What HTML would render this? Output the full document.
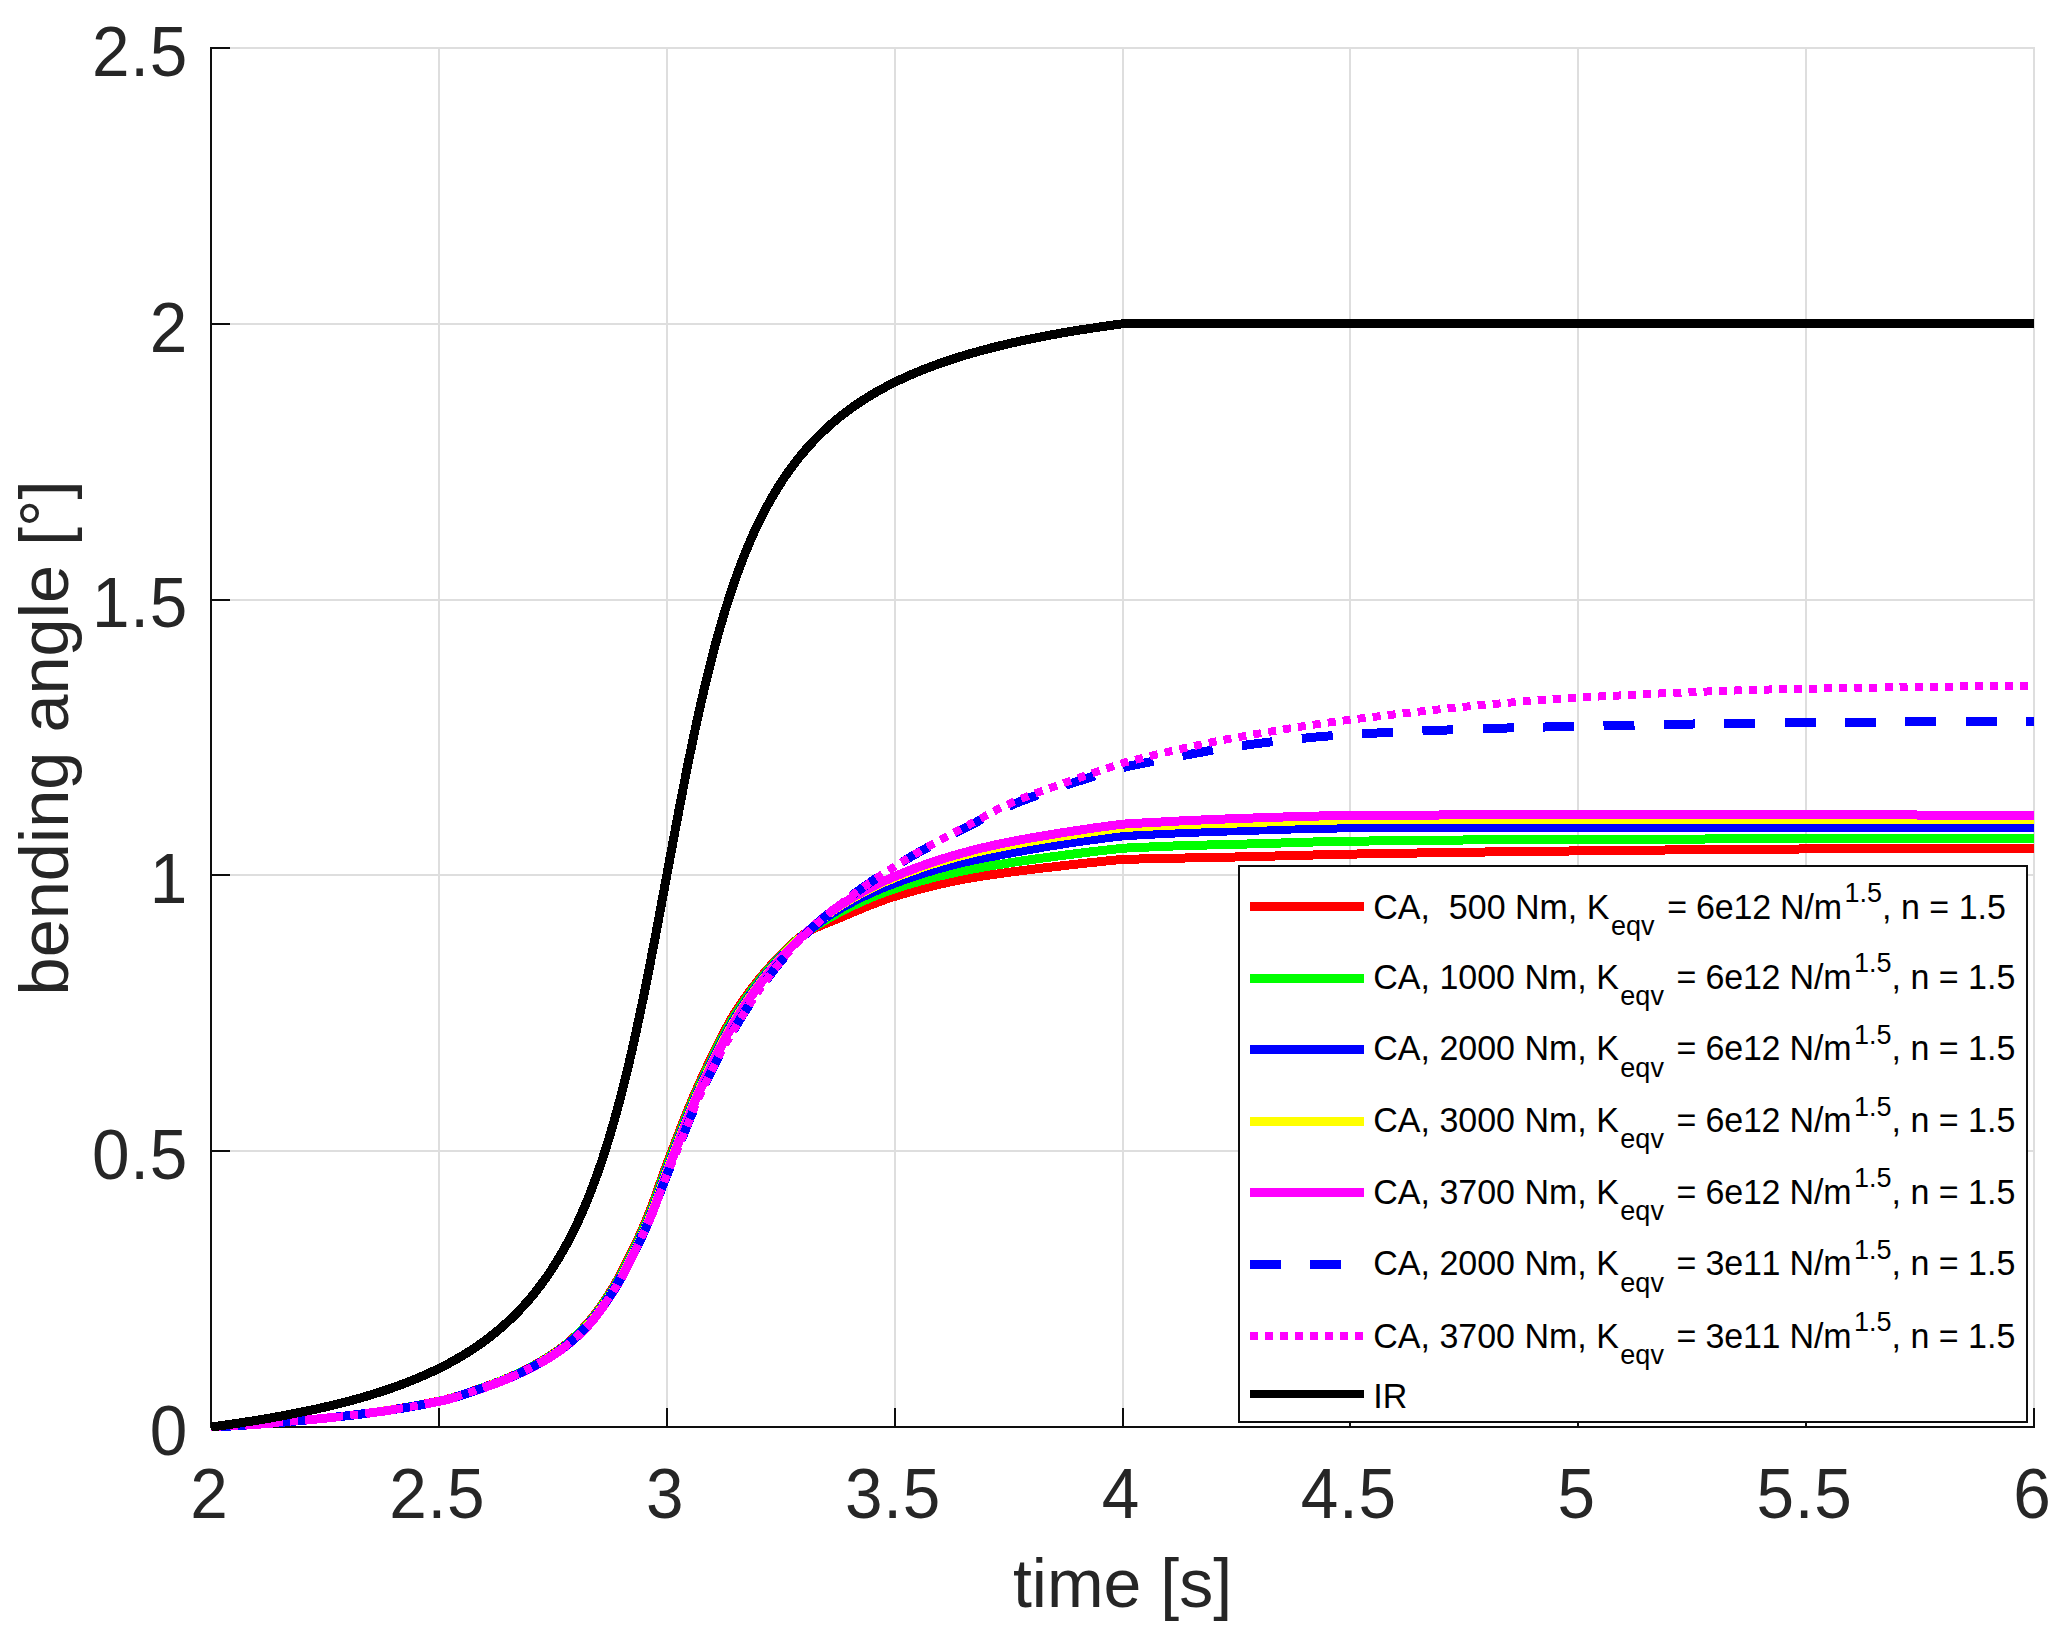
<!DOCTYPE html>
<html lang="en"><head><meta charset="utf-8"><title>bending angle vs time</title>
<style>html,body{margin:0;padding:0;background:#fff}svg{display:block}text{font-family:"Liberation Sans",sans-serif;font-kerning:none}.tk{font-size:67.5px;letter-spacing:0.8px;fill:#262626}.al{fill:#262626}.lg{font-size:34px;fill:#000}.ss{font-size:27px}</style></head><body>
<svg width="2066" height="1640" viewBox="0 0 2066 1640">
<rect width="2066" height="1640" fill="#fff"/>
<g fill="#dedede" shape-rendering="crispEdges">
<rect x="210" y="47" width="2" height="1381"/>
<rect x="438" y="47" width="2" height="1381"/>
<rect x="666" y="47" width="2" height="1381"/>
<rect x="894" y="47" width="2" height="1381"/>
<rect x="1122" y="47" width="2" height="1381"/>
<rect x="1349" y="47" width="2" height="1381"/>
<rect x="1577" y="47" width="2" height="1381"/>
<rect x="1805" y="47" width="2" height="1381"/>
<rect x="2033" y="47" width="2" height="1381"/>
<rect x="210" y="1426" width="1825" height="2"/>
<rect x="210" y="1150" width="1825" height="2"/>
<rect x="210" y="874" width="1825" height="2"/>
<rect x="210" y="599" width="1825" height="2"/>
<rect x="210" y="323" width="1825" height="2"/>
<rect x="210" y="47" width="1825" height="2"/>
</g>
<g fill="#0e0e0e" shape-rendering="crispEdges">
<rect x="210" y="47" width="2" height="1381"/>
<rect x="210" y="1426" width="1825" height="2"/>
<rect x="210" y="1408" width="2" height="20"/>
<rect x="438" y="1408" width="2" height="20"/>
<rect x="666" y="1408" width="2" height="20"/>
<rect x="894" y="1408" width="2" height="20"/>
<rect x="1122" y="1408" width="2" height="20"/>
<rect x="1349" y="1408" width="2" height="20"/>
<rect x="1577" y="1408" width="2" height="20"/>
<rect x="1805" y="1408" width="2" height="20"/>
<rect x="2033" y="1408" width="2" height="20"/>
<rect x="210" y="1426" width="20" height="2"/>
<rect x="210" y="1150" width="20" height="2"/>
<rect x="210" y="874" width="20" height="2"/>
<rect x="210" y="599" width="20" height="2"/>
<rect x="210" y="323" width="20" height="2"/>
<rect x="210" y="47" width="20" height="2"/>
</g>
<defs><clipPath id="c"><rect x="210" y="47" width="1825" height="1384"/></clipPath></defs>
<g clip-path="url(#c)" fill="none" stroke-width="9" stroke-linejoin="round" shape-rendering="crispEdges">
<path d="M211.0,1427.0 L213.0,1426.9 L215.0,1426.8 L217.0,1426.7 L219.0,1426.6 L221.0,1426.5 L223.0,1426.4 L225.0,1426.3 L227.0,1426.2 L229.0,1426.1 L231.0,1426.0 L233.0,1425.9 L235.0,1425.8 L237.0,1425.7 L239.0,1425.5 L241.0,1425.4 L243.0,1425.3 L245.0,1425.1 L247.0,1425.0 L249.0,1424.9 L251.0,1424.7 L253.0,1424.6 L255.0,1424.4 L257.0,1424.3 L259.0,1424.1 L261.0,1424.0 L263.0,1423.8 L265.0,1423.7 L267.0,1423.5 L269.0,1423.4 L271.0,1423.2 L273.0,1423.0 L275.0,1422.9 L277.0,1422.7 L279.0,1422.5 L281.0,1422.4 L283.0,1422.2 L285.0,1422.0 L287.0,1421.8 L289.0,1421.6 L291.0,1421.5 L293.0,1421.3 L295.0,1421.1 L297.0,1420.9 L299.0,1420.7 L301.0,1420.5 L303.0,1420.3 L305.0,1420.2 L307.0,1420.0 L309.0,1419.8 L311.0,1419.6 L313.0,1419.4 L315.0,1419.2 L317.0,1419.0 L319.0,1418.8 L321.0,1418.6 L323.0,1418.4 L325.0,1418.2 L327.0,1418.0 L329.0,1417.8 L331.0,1417.5 L333.0,1417.3 L335.0,1417.1 L337.0,1416.9 L339.0,1416.7 L341.0,1416.5 L343.0,1416.2 L345.0,1416.0 L347.0,1415.8 L349.0,1415.5 L351.0,1415.3 L353.0,1415.1 L355.0,1414.8 L357.0,1414.6 L359.0,1414.3 L361.0,1414.1 L363.0,1413.8 L365.0,1413.6 L367.0,1413.3 L369.0,1413.0 L371.0,1412.8 L373.0,1412.5 L375.0,1412.2 L377.0,1412.0 L379.0,1411.7 L381.0,1411.4 L383.0,1411.1 L385.0,1410.8 L387.0,1410.5 L389.0,1410.2 L391.0,1409.9 L393.0,1409.6 L395.0,1409.3 L397.0,1408.9 L399.0,1408.6 L401.0,1408.3 L403.0,1408.0 L405.0,1407.6 L407.0,1407.3 L409.0,1406.9 L411.0,1406.6 L413.0,1406.2 L415.0,1405.9 L417.0,1405.5 L419.0,1405.1 L421.0,1404.8 L423.0,1404.4 L425.0,1404.0 L427.0,1403.6 L429.0,1403.2 L431.0,1402.8 L433.0,1402.4 L435.0,1402.0 L437.0,1401.6 L439.0,1401.2 L441.0,1400.7 L443.0,1400.3 L445.0,1399.8 L447.0,1399.3 L449.0,1398.7 L451.0,1398.2 L453.0,1397.6 L455.0,1397.0 L457.0,1396.4 L459.0,1395.8 L461.0,1395.1 L463.0,1394.5 L465.0,1393.8 L467.0,1393.1 L469.0,1392.5 L471.0,1391.8 L473.0,1391.1 L475.0,1390.4 L477.0,1389.7 L479.0,1389.0 L481.0,1388.2 L483.0,1387.5 L485.0,1386.8 L487.0,1386.1 L489.0,1385.4 L491.0,1384.6 L493.0,1383.9 L495.0,1383.1 L497.0,1382.3 L499.0,1381.6 L501.0,1380.8 L503.0,1379.9 L505.0,1379.1 L507.0,1378.3 L509.0,1377.4 L511.0,1376.6 L513.0,1375.7 L515.0,1374.8 L517.0,1373.9 L519.0,1372.9 L521.0,1372.0 L523.0,1371.0 L525.0,1370.0 L527.0,1369.0 L529.0,1368.0 L531.0,1366.9 L533.0,1365.9 L535.0,1364.8 L537.0,1363.7 L539.0,1362.6 L541.0,1361.4 L543.0,1360.2 L545.0,1359.0 L547.0,1357.8 L549.0,1356.5 L551.0,1355.2 L553.0,1353.9 L555.0,1352.5 L557.0,1351.1 L559.0,1349.7 L561.0,1348.2 L563.0,1346.7 L565.0,1345.1 L567.0,1343.5 L569.0,1341.8 L571.0,1340.0 L573.0,1338.2 L575.0,1336.4 L577.0,1334.5 L579.0,1332.5 L581.0,1330.5 L583.0,1328.4 L585.0,1326.3 L587.0,1324.1 L589.0,1321.8 L591.0,1319.3 L593.0,1316.8 L595.0,1314.2 L597.0,1311.6 L599.0,1308.8 L601.0,1306.0 L603.0,1303.0 L605.0,1300.1 L607.0,1297.0 L609.0,1293.9 L611.0,1290.8 L613.0,1287.6 L615.0,1284.2 L617.0,1280.7 L619.0,1277.1 L621.0,1273.3 L623.0,1269.5 L625.0,1265.5 L627.0,1261.5 L629.0,1257.5 L631.0,1253.5 L633.0,1249.4 L635.0,1245.2 L637.0,1240.9 L639.0,1236.6 L641.0,1232.2 L643.0,1227.7 L645.0,1223.1 L647.0,1218.3 L649.0,1213.4 L651.0,1208.3 L653.0,1203.0 L655.0,1197.4 L657.0,1191.8 L659.0,1186.0 L661.0,1180.3 L663.0,1174.7 L665.0,1169.1 L667.0,1163.8 L669.0,1158.5 L671.0,1153.3 L673.0,1148.0 L675.0,1142.8 L677.0,1137.6 L679.0,1132.4 L681.0,1127.3 L683.0,1122.2 L685.0,1117.2 L687.0,1112.2 L689.0,1107.3 L691.0,1102.5 L693.0,1097.7 L695.0,1093.0 L697.0,1088.5 L699.0,1084.0 L701.0,1079.6 L703.0,1075.2 L705.0,1070.9 L707.0,1066.6 L709.0,1062.3 L711.0,1058.1 L713.0,1053.9 L715.0,1049.8 L717.0,1045.7 L719.0,1041.7 L721.0,1037.8 L723.0,1033.9 L725.0,1030.1 L727.0,1026.5 L729.0,1022.9 L731.0,1019.4 L733.0,1016.0 L735.0,1012.8 L737.0,1009.7 L739.0,1006.6 L741.0,1003.7 L743.0,1000.7 L745.0,997.9 L747.0,995.1 L749.0,992.3 L751.0,989.6 L753.0,987.0 L755.0,984.4 L757.0,981.8 L759.0,979.3 L761.0,976.9 L763.0,974.4 L765.0,972.1 L767.0,969.8 L769.0,967.5 L771.0,965.3 L773.0,963.1 L775.0,960.9 L777.0,958.8 L779.0,956.7 L781.0,954.7 L783.0,952.7 L785.0,950.7 L787.0,948.7 L789.0,946.8 L791.0,944.9 L793.0,943.0 L795.0,941.2 L797.0,939.5 L799.0,937.9 L801.0,936.4 L803.0,934.9 L805.0,933.6 L807.0,932.4 L809.0,931.2 L811.0,930.2 L813.0,929.1 L815.0,928.1 L817.0,927.2 L819.0,926.3 L821.0,925.4 L823.0,924.6 L825.0,923.7 L827.0,922.9 L829.0,922.1 L831.0,921.3 L833.0,920.5 L835.0,919.7 L837.0,918.9 L839.0,918.1 L841.0,917.3 L843.0,916.4 L845.0,915.6 L847.0,914.7 L849.0,913.9 L851.0,913.0 L853.0,912.2 L855.0,911.4 L857.0,910.5 L859.0,909.7 L861.0,908.9 L863.0,908.0 L865.0,907.2 L867.0,906.4 L869.0,905.6 L871.0,904.8 L873.0,904.0 L875.0,903.3 L877.0,902.5 L879.0,901.8 L881.0,901.0 L883.0,900.3 L885.0,899.6 L887.0,898.9 L889.0,898.2 L891.0,897.6 L893.0,896.9 L895.0,896.3 L897.0,895.7 L899.0,895.1 L901.0,894.5 L903.0,893.9 L905.0,893.3 L907.0,892.7 L909.0,892.2 L911.0,891.6 L913.0,891.0 L915.0,890.5 L917.0,889.9 L919.0,889.4 L921.0,888.9 L923.0,888.3 L925.0,887.8 L927.0,887.3 L929.0,886.8 L931.0,886.3 L933.0,885.8 L935.0,885.3 L937.0,884.9 L939.0,884.4 L941.0,883.9 L943.0,883.5 L945.0,883.0 L947.0,882.6 L949.0,882.2 L951.0,881.8 L953.0,881.4 L955.0,880.9 L957.0,880.5 L959.0,880.2 L961.0,879.8 L963.0,879.4 L965.0,879.0 L967.0,878.7 L969.0,878.3 L971.0,878.0 L973.0,877.6 L975.0,877.3 L977.0,877.0 L979.0,876.7 L981.0,876.4 L983.0,876.0 L985.0,875.7 L987.0,875.4 L989.0,875.1 L991.0,874.8 L993.0,874.5 L995.0,874.3 L997.0,874.0 L999.0,873.7 L1001.0,873.4 L1003.0,873.1 L1005.0,872.9 L1007.0,872.6 L1009.0,872.3 L1011.0,872.0 L1013.0,871.8 L1015.0,871.5 L1017.0,871.2 L1019.0,871.0 L1021.0,870.7 L1023.0,870.5 L1025.0,870.2 L1027.0,870.0 L1029.0,869.7 L1031.0,869.5 L1033.0,869.2 L1035.0,869.0 L1037.0,868.7 L1039.0,868.5 L1041.0,868.3 L1043.0,868.0 L1045.0,867.8 L1047.0,867.5 L1049.0,867.3 L1051.0,867.1 L1053.0,866.9 L1055.0,866.6 L1057.0,866.4 L1059.0,866.2 L1061.0,865.9 L1063.0,865.7 L1065.0,865.5 L1067.0,865.3 L1069.0,865.0 L1071.0,864.8 L1073.0,864.6 L1075.0,864.4 L1077.0,864.1 L1079.0,863.9 L1081.0,863.7 L1083.0,863.5 L1085.0,863.3 L1087.0,863.0 L1089.0,862.8 L1091.0,862.6 L1093.0,862.4 L1095.0,862.2 L1097.0,862.0 L1099.0,861.8 L1101.0,861.5 L1103.0,861.3 L1105.0,861.1 L1107.0,860.9 L1109.0,860.7 L1111.0,860.5 L1113.0,860.3 L1115.0,860.1 L1117.0,859.9 L1119.0,859.7 L1121.0,859.5 L1122.5,859.3 L1123.0,859.3 L1125.0,859.3 L1127.0,859.2 L1129.0,859.2 L1131.0,859.2 L1133.0,859.1 L1135.0,859.1 L1137.0,859.0 L1139.0,859.0 L1141.0,858.9 L1143.0,858.9 L1145.0,858.8 L1147.0,858.8 L1149.0,858.7 L1151.0,858.7 L1153.0,858.7 L1155.0,858.6 L1157.0,858.6 L1159.0,858.5 L1161.0,858.5 L1163.0,858.4 L1165.0,858.4 L1167.0,858.3 L1169.0,858.3 L1171.0,858.3 L1173.0,858.2 L1175.0,858.2 L1177.0,858.1 L1179.0,858.1 L1181.0,858.0 L1183.0,858.0 L1185.0,858.0 L1187.0,857.9 L1189.0,857.9 L1191.0,857.8 L1193.0,857.8 L1195.0,857.8 L1197.0,857.7 L1199.0,857.7 L1201.0,857.6 L1203.0,857.6 L1205.0,857.6 L1207.0,857.5 L1209.0,857.5 L1211.0,857.4 L1213.0,857.4 L1215.0,857.4 L1217.0,857.3 L1219.0,857.3 L1221.0,857.2 L1223.0,857.2 L1225.0,857.2 L1227.0,857.1 L1229.0,857.1 L1231.0,857.0 L1233.0,857.0 L1235.0,857.0 L1237.0,856.9 L1239.0,856.9 L1241.0,856.8 L1243.0,856.8 L1245.0,856.7 L1247.0,856.7 L1249.0,856.6 L1251.0,856.6 L1253.0,856.5 L1255.0,856.5 L1257.0,856.4 L1259.0,856.4 L1261.0,856.3 L1263.0,856.3 L1265.0,856.2 L1267.0,856.2 L1269.0,856.1 L1271.0,856.1 L1273.0,856.0 L1275.0,856.0 L1277.0,855.9 L1279.0,855.9 L1281.0,855.8 L1283.0,855.7 L1285.0,855.7 L1287.0,855.6 L1289.0,855.6 L1291.0,855.5 L1293.0,855.5 L1295.0,855.4 L1297.0,855.4 L1299.0,855.3 L1301.0,855.3 L1303.0,855.2 L1305.0,855.2 L1307.0,855.1 L1309.0,855.1 L1311.0,855.0 L1313.0,855.0 L1315.0,854.9 L1317.0,854.9 L1319.0,854.8 L1321.0,854.8 L1323.0,854.7 L1325.0,854.7 L1327.0,854.6 L1329.0,854.6 L1331.0,854.5 L1333.0,854.5 L1335.0,854.4 L1337.0,854.4 L1339.0,854.3 L1341.0,854.3 L1343.0,854.3 L1345.0,854.2 L1347.0,854.2 L1349.0,854.1 L1351.0,854.1 L1353.0,854.1 L1355.0,854.0 L1357.0,854.0 L1359.0,853.9 L1361.0,853.9 L1363.0,853.9 L1365.0,853.8 L1367.0,853.8 L1369.0,853.8 L1371.0,853.7 L1373.0,853.7 L1375.0,853.7 L1377.0,853.6 L1379.0,853.6 L1381.0,853.6 L1383.0,853.5 L1385.0,853.5 L1387.0,853.5 L1389.0,853.4 L1391.0,853.4 L1393.0,853.4 L1395.0,853.3 L1397.0,853.3 L1399.0,853.3 L1401.0,853.2 L1403.0,853.2 L1405.0,853.2 L1407.0,853.1 L1409.0,853.1 L1411.0,853.1 L1413.0,853.0 L1415.0,853.0 L1417.0,853.0 L1419.0,852.9 L1421.0,852.9 L1423.0,852.9 L1425.0,852.8 L1427.0,852.8 L1429.0,852.8 L1431.0,852.7 L1433.0,852.7 L1435.0,852.7 L1437.0,852.7 L1439.0,852.6 L1441.0,852.6 L1443.0,852.6 L1445.0,852.5 L1447.0,852.5 L1449.0,852.5 L1451.0,852.4 L1453.0,852.4 L1455.0,852.4 L1457.0,852.4 L1459.0,852.3 L1461.0,852.3 L1463.0,852.3 L1465.0,852.2 L1467.0,852.2 L1469.0,852.2 L1471.0,852.2 L1473.0,852.1 L1475.0,852.1 L1477.0,852.1 L1479.0,852.0 L1481.0,852.0 L1483.0,852.0 L1485.0,852.0 L1487.0,851.9 L1489.0,851.9 L1491.0,851.9 L1493.0,851.9 L1495.0,851.8 L1497.0,851.8 L1499.0,851.8 L1501.0,851.8 L1503.0,851.7 L1505.0,851.7 L1507.0,851.7 L1509.0,851.7 L1511.0,851.6 L1513.0,851.6 L1515.0,851.6 L1517.0,851.6 L1519.0,851.5 L1521.0,851.5 L1523.0,851.5 L1525.0,851.5 L1527.0,851.4 L1529.0,851.4 L1531.0,851.4 L1533.0,851.4 L1535.0,851.3 L1537.0,851.3 L1539.0,851.3 L1541.0,851.3 L1543.0,851.2 L1545.0,851.2 L1547.0,851.2 L1549.0,851.2 L1551.0,851.2 L1553.0,851.1 L1555.0,851.1 L1557.0,851.1 L1559.0,851.1 L1561.0,851.0 L1563.0,851.0 L1565.0,851.0 L1567.0,851.0 L1569.0,851.0 L1571.0,850.9 L1573.0,850.9 L1575.0,850.9 L1577.0,850.9 L1579.0,850.8 L1581.0,850.8 L1583.0,850.8 L1585.0,850.8 L1587.0,850.8 L1589.0,850.7 L1591.0,850.7 L1593.0,850.7 L1595.0,850.7 L1597.0,850.7 L1599.0,850.6 L1601.0,850.6 L1603.0,850.6 L1605.0,850.6 L1607.0,850.5 L1609.0,850.5 L1611.0,850.5 L1613.0,850.5 L1615.0,850.5 L1617.0,850.4 L1619.0,850.4 L1621.0,850.4 L1623.0,850.4 L1625.0,850.4 L1627.0,850.3 L1629.0,850.3 L1631.0,850.3 L1633.0,850.3 L1635.0,850.3 L1637.0,850.2 L1639.0,850.2 L1641.0,850.2 L1643.0,850.2 L1645.0,850.2 L1647.0,850.1 L1649.0,850.1 L1651.0,850.1 L1653.0,850.1 L1655.0,850.1 L1657.0,850.0 L1659.0,850.0 L1661.0,850.0 L1663.0,850.0 L1665.0,850.0 L1667.0,849.9 L1669.0,849.9 L1671.0,849.9 L1673.0,849.9 L1675.0,849.9 L1677.0,849.8 L1679.0,849.8 L1681.0,849.8 L1683.0,849.8 L1685.0,849.8 L1687.0,849.7 L1689.0,849.7 L1691.0,849.7 L1693.0,849.7 L1695.0,849.7 L1697.0,849.7 L1699.0,849.6 L1701.0,849.6 L1703.0,849.6 L1705.0,849.6 L1707.0,849.6 L1709.0,849.6 L1711.0,849.5 L1713.0,849.5 L1715.0,849.5 L1717.0,849.5 L1719.0,849.5 L1721.0,849.5 L1723.0,849.4 L1725.0,849.4 L1727.0,849.4 L1729.0,849.4 L1731.0,849.4 L1733.0,849.4 L1735.0,849.3 L1737.0,849.3 L1739.0,849.3 L1741.0,849.3 L1743.0,849.3 L1745.0,849.3 L1747.0,849.3 L1749.0,849.2 L1751.0,849.2 L1753.0,849.2 L1755.0,849.2 L1757.0,849.2 L1759.0,849.2 L1761.0,849.2 L1763.0,849.1 L1765.0,849.1 L1767.0,849.1 L1769.0,849.1 L1771.0,849.1 L1773.0,849.1 L1775.0,849.1 L1777.0,849.1 L1779.0,849.1 L1781.0,849.0 L1783.0,849.0 L1785.0,849.0 L1787.0,849.0 L1789.0,849.0 L1791.0,849.0 L1793.0,849.0 L1795.0,849.0 L1797.0,849.0 L1799.0,849.0 L1801.0,848.9 L1803.0,848.9 L1805.0,848.9 L1807.0,848.9 L1809.0,848.9 L1811.0,848.9 L1813.0,848.9 L1815.0,848.9 L1817.0,848.9 L1819.0,848.9 L1821.0,848.9 L1823.0,848.9 L1825.0,848.8 L1827.0,848.8 L1829.0,848.8 L1831.0,848.8 L1833.0,848.8 L1835.0,848.8 L1837.0,848.8 L1839.0,848.8 L1841.0,848.8 L1843.0,848.8 L1845.0,848.8 L1847.0,848.8 L1849.0,848.8 L1851.0,848.7 L1853.0,848.7 L1855.0,848.7 L1857.0,848.7 L1859.0,848.7 L1861.0,848.7 L1863.0,848.7 L1865.0,848.7 L1867.0,848.7 L1869.0,848.7 L1871.0,848.7 L1873.0,848.7 L1875.0,848.7 L1877.0,848.6 L1879.0,848.6 L1881.0,848.6 L1883.0,848.6 L1885.0,848.6 L1887.0,848.6 L1889.0,848.6 L1891.0,848.6 L1893.0,848.6 L1895.0,848.6 L1897.0,848.6 L1899.0,848.6 L1901.0,848.6 L1903.0,848.6 L1905.0,848.6 L1907.0,848.5 L1909.0,848.5 L1911.0,848.5 L1913.0,848.5 L1915.0,848.5 L1917.0,848.5 L1919.0,848.5 L1921.0,848.5 L1923.0,848.5 L1925.0,848.5 L1927.0,848.5 L1929.0,848.5 L1931.0,848.5 L1933.0,848.5 L1935.0,848.5 L1937.0,848.5 L1939.0,848.5 L1941.0,848.4 L1943.0,848.4 L1945.0,848.4 L1947.0,848.4 L1949.0,848.4 L1951.0,848.4 L1953.0,848.4 L1955.0,848.4 L1957.0,848.4 L1959.0,848.4 L1961.0,848.4 L1963.0,848.4 L1965.0,848.4 L1967.0,848.4 L1969.0,848.4 L1971.0,848.4 L1973.0,848.4 L1975.0,848.4 L1977.0,848.4 L1979.0,848.4 L1981.0,848.4 L1983.0,848.4 L1985.0,848.4 L1987.0,848.4 L1989.0,848.3 L1991.0,848.3 L1993.0,848.3 L1995.0,848.3 L1997.0,848.3 L1999.0,848.3 L2001.0,848.3 L2003.0,848.3 L2005.0,848.3 L2007.0,848.3 L2009.0,848.3 L2011.0,848.3 L2013.0,848.3 L2015.0,848.3 L2017.0,848.3 L2019.0,848.3 L2021.0,848.3 L2023.0,848.3 L2025.0,848.3 L2027.0,848.3 L2029.0,848.3 L2031.0,848.3 L2033.0,848.3 L2034.0,848.3" stroke="#ff0000"/>
<path d="M211.0,1427.0 L213.0,1426.9 L215.0,1426.8 L217.0,1426.7 L219.0,1426.6 L221.0,1426.5 L223.0,1426.4 L225.0,1426.3 L227.0,1426.2 L229.0,1426.1 L231.0,1426.0 L233.0,1425.9 L235.0,1425.8 L237.0,1425.6 L239.0,1425.5 L241.0,1425.4 L243.0,1425.3 L245.0,1425.1 L247.0,1425.0 L249.0,1424.9 L251.0,1424.7 L253.0,1424.6 L255.0,1424.4 L257.0,1424.3 L259.0,1424.1 L261.0,1424.0 L263.0,1423.8 L265.0,1423.7 L267.0,1423.5 L269.0,1423.4 L271.0,1423.2 L273.0,1423.0 L275.0,1422.9 L277.0,1422.7 L279.0,1422.5 L281.0,1422.4 L283.0,1422.2 L285.0,1422.0 L287.0,1421.8 L289.0,1421.6 L291.0,1421.5 L293.0,1421.3 L295.0,1421.1 L297.0,1420.9 L299.0,1420.7 L301.0,1420.5 L303.0,1420.3 L305.0,1420.2 L307.0,1420.0 L309.0,1419.8 L311.0,1419.6 L313.0,1419.4 L315.0,1419.2 L317.0,1419.0 L319.0,1418.8 L321.0,1418.6 L323.0,1418.4 L325.0,1418.2 L327.0,1418.0 L329.0,1417.8 L331.0,1417.5 L333.0,1417.3 L335.0,1417.1 L337.0,1416.9 L339.0,1416.7 L341.0,1416.5 L343.0,1416.2 L345.0,1416.0 L347.0,1415.8 L349.0,1415.6 L351.0,1415.3 L353.0,1415.1 L355.0,1414.8 L357.0,1414.6 L359.0,1414.3 L361.0,1414.1 L363.0,1413.8 L365.0,1413.6 L367.0,1413.3 L369.0,1413.1 L371.0,1412.8 L373.0,1412.5 L375.0,1412.2 L377.0,1412.0 L379.0,1411.7 L381.0,1411.4 L383.0,1411.1 L385.0,1410.8 L387.0,1410.5 L389.0,1410.2 L391.0,1409.9 L393.0,1409.6 L395.0,1409.3 L397.0,1409.0 L399.0,1408.7 L401.0,1408.3 L403.0,1408.0 L405.0,1407.7 L407.0,1407.3 L409.0,1407.0 L411.0,1406.6 L413.0,1406.3 L415.0,1405.9 L417.0,1405.5 L419.0,1405.2 L421.0,1404.8 L423.0,1404.4 L425.0,1404.0 L427.0,1403.7 L429.0,1403.3 L431.0,1402.9 L433.0,1402.5 L435.0,1402.1 L437.0,1401.6 L439.0,1401.2 L441.0,1400.8 L443.0,1400.3 L445.0,1399.8 L447.0,1399.3 L449.0,1398.8 L451.0,1398.3 L453.0,1397.7 L455.0,1397.1 L457.0,1396.5 L459.0,1395.9 L461.0,1395.2 L463.0,1394.6 L465.0,1393.9 L467.0,1393.3 L469.0,1392.6 L471.0,1391.9 L473.0,1391.2 L475.0,1390.5 L477.0,1389.8 L479.0,1389.1 L481.0,1388.4 L483.0,1387.7 L485.0,1387.0 L487.0,1386.2 L489.0,1385.5 L491.0,1384.8 L493.0,1384.0 L495.0,1383.3 L497.0,1382.5 L499.0,1381.7 L501.0,1380.9 L503.0,1380.1 L505.0,1379.3 L507.0,1378.5 L509.0,1377.6 L511.0,1376.8 L513.0,1375.9 L515.0,1375.0 L517.0,1374.1 L519.0,1373.2 L521.0,1372.2 L523.0,1371.3 L525.0,1370.3 L527.0,1369.3 L529.0,1368.3 L531.0,1367.2 L533.0,1366.2 L535.0,1365.1 L537.0,1364.0 L539.0,1362.9 L541.0,1361.8 L543.0,1360.6 L545.0,1359.4 L547.0,1358.2 L549.0,1356.9 L551.0,1355.6 L553.0,1354.3 L555.0,1353.0 L557.0,1351.6 L559.0,1350.2 L561.0,1348.7 L563.0,1347.2 L565.0,1345.6 L567.0,1344.0 L569.0,1342.4 L571.0,1340.7 L573.0,1338.9 L575.0,1337.1 L577.0,1335.2 L579.0,1333.2 L581.0,1331.2 L583.0,1329.2 L585.0,1327.1 L587.0,1324.9 L589.0,1322.6 L591.0,1320.3 L593.0,1317.8 L595.0,1315.2 L597.0,1312.6 L599.0,1309.9 L601.0,1307.1 L603.0,1304.2 L605.0,1301.3 L607.0,1298.3 L609.0,1295.2 L611.0,1292.1 L613.0,1288.9 L615.0,1285.6 L617.0,1282.2 L619.0,1278.6 L621.0,1274.9 L623.0,1271.1 L625.0,1267.2 L627.0,1263.3 L629.0,1259.3 L631.0,1255.2 L633.0,1251.2 L635.0,1247.1 L637.0,1242.9 L639.0,1238.6 L641.0,1234.2 L643.0,1229.8 L645.0,1225.2 L647.0,1220.6 L649.0,1215.8 L651.0,1210.8 L653.0,1205.6 L655.0,1200.1 L657.0,1194.5 L659.0,1188.8 L661.0,1183.1 L663.0,1177.4 L665.0,1171.9 L667.0,1166.4 L669.0,1161.2 L671.0,1156.0 L673.0,1150.7 L675.0,1145.5 L677.0,1140.3 L679.0,1135.1 L681.0,1130.0 L683.0,1124.9 L685.0,1119.8 L687.0,1114.8 L689.0,1109.9 L691.0,1105.1 L693.0,1100.3 L695.0,1095.6 L697.0,1091.0 L699.0,1086.5 L701.0,1082.1 L703.0,1077.8 L705.0,1073.5 L707.0,1069.2 L709.0,1064.9 L711.0,1060.7 L713.0,1056.6 L715.0,1052.5 L717.0,1048.4 L719.0,1044.4 L721.0,1040.5 L723.0,1036.6 L725.0,1032.9 L727.0,1029.2 L729.0,1025.6 L731.0,1022.1 L733.0,1018.6 L735.0,1015.3 L737.0,1012.1 L739.0,1009.0 L741.0,1006.0 L743.0,1003.0 L745.0,1000.1 L747.0,997.2 L749.0,994.4 L751.0,991.6 L753.0,988.9 L755.0,986.3 L757.0,983.7 L759.0,981.1 L761.0,978.6 L763.0,976.1 L765.0,973.7 L767.0,971.3 L769.0,969.0 L771.0,966.7 L773.0,964.4 L775.0,962.2 L777.0,960.0 L779.0,957.8 L781.0,955.7 L783.0,953.7 L785.0,951.6 L787.0,949.6 L789.0,947.6 L791.0,945.7 L793.0,943.9 L795.0,942.0 L797.0,940.3 L799.0,938.5 L801.0,936.9 L803.0,935.3 L805.0,933.7 L807.0,932.2 L809.0,930.8 L811.0,929.4 L813.0,928.0 L815.0,926.7 L817.0,925.4 L819.0,924.1 L821.0,922.8 L823.0,921.6 L825.0,920.4 L827.0,919.2 L829.0,918.1 L831.0,917.0 L833.0,915.8 L835.0,914.8 L837.0,913.7 L839.0,912.7 L841.0,911.6 L843.0,910.6 L845.0,909.6 L847.0,908.6 L849.0,907.7 L851.0,906.7 L853.0,905.7 L855.0,904.8 L857.0,903.9 L859.0,902.9 L861.0,902.0 L863.0,901.1 L865.0,900.2 L867.0,899.4 L869.0,898.5 L871.0,897.7 L873.0,896.8 L875.0,896.0 L877.0,895.2 L879.0,894.4 L881.0,893.7 L883.0,892.9 L885.0,892.2 L887.0,891.4 L889.0,890.7 L891.0,890.0 L893.0,889.3 L895.0,888.7 L897.0,888.0 L899.0,887.4 L901.0,886.8 L903.0,886.1 L905.0,885.5 L907.0,884.9 L909.0,884.3 L911.0,883.7 L913.0,883.1 L915.0,882.5 L917.0,882.0 L919.0,881.4 L921.0,880.9 L923.0,880.3 L925.0,879.8 L927.0,879.3 L929.0,878.7 L931.0,878.2 L933.0,877.7 L935.0,877.2 L937.0,876.7 L939.0,876.2 L941.0,875.8 L943.0,875.3 L945.0,874.8 L947.0,874.4 L949.0,873.9 L951.0,873.5 L953.0,873.0 L955.0,872.6 L957.0,872.2 L959.0,871.7 L961.0,871.3 L963.0,870.9 L965.0,870.5 L967.0,870.1 L969.0,869.7 L971.0,869.3 L973.0,869.0 L975.0,868.6 L977.0,868.2 L979.0,867.9 L981.0,867.5 L983.0,867.2 L985.0,866.8 L987.0,866.5 L989.0,866.1 L991.0,865.8 L993.0,865.5 L995.0,865.1 L997.0,864.8 L999.0,864.5 L1001.0,864.2 L1003.0,863.9 L1005.0,863.5 L1007.0,863.2 L1009.0,862.9 L1011.0,862.6 L1013.0,862.3 L1015.0,862.0 L1017.0,861.7 L1019.0,861.4 L1021.0,861.1 L1023.0,860.8 L1025.0,860.5 L1027.0,860.2 L1029.0,859.9 L1031.0,859.7 L1033.0,859.4 L1035.0,859.1 L1037.0,858.8 L1039.0,858.5 L1041.0,858.3 L1043.0,858.0 L1045.0,857.7 L1047.0,857.4 L1049.0,857.2 L1051.0,856.9 L1053.0,856.6 L1055.0,856.4 L1057.0,856.1 L1059.0,855.9 L1061.0,855.6 L1063.0,855.3 L1065.0,855.1 L1067.0,854.8 L1069.0,854.6 L1071.0,854.3 L1073.0,854.1 L1075.0,853.8 L1077.0,853.6 L1079.0,853.3 L1081.0,853.1 L1083.0,852.8 L1085.0,852.6 L1087.0,852.3 L1089.0,852.1 L1091.0,851.8 L1093.0,851.6 L1095.0,851.4 L1097.0,851.1 L1099.0,850.9 L1101.0,850.7 L1103.0,850.4 L1105.0,850.2 L1107.0,850.0 L1109.0,849.8 L1111.0,849.5 L1113.0,849.3 L1115.0,849.1 L1117.0,848.9 L1119.0,848.6 L1121.0,848.4 L1122.5,848.3 L1123.0,848.2 L1125.0,848.1 L1127.0,848.0 L1129.0,847.9 L1131.0,847.8 L1133.0,847.7 L1135.0,847.6 L1137.0,847.5 L1139.0,847.4 L1141.0,847.4 L1143.0,847.3 L1145.0,847.2 L1147.0,847.1 L1149.0,847.0 L1151.0,846.9 L1153.0,846.8 L1155.0,846.7 L1157.0,846.6 L1159.0,846.6 L1161.0,846.5 L1163.0,846.4 L1165.0,846.3 L1167.0,846.2 L1169.0,846.2 L1171.0,846.1 L1173.0,846.0 L1175.0,845.9 L1177.0,845.9 L1179.0,845.8 L1181.0,845.7 L1183.0,845.7 L1185.0,845.6 L1187.0,845.5 L1189.0,845.5 L1191.0,845.4 L1193.0,845.4 L1195.0,845.3 L1197.0,845.2 L1199.0,845.2 L1201.0,845.1 L1203.0,845.1 L1205.0,845.0 L1207.0,845.0 L1209.0,844.9 L1211.0,844.9 L1213.0,844.8 L1215.0,844.8 L1217.0,844.8 L1219.0,844.7 L1221.0,844.7 L1223.0,844.6 L1225.0,844.6 L1227.0,844.5 L1229.0,844.5 L1231.0,844.4 L1233.0,844.4 L1235.0,844.3 L1237.0,844.3 L1239.0,844.2 L1241.0,844.2 L1243.0,844.1 L1245.0,844.1 L1247.0,844.0 L1249.0,843.9 L1251.0,843.9 L1253.0,843.8 L1255.0,843.8 L1257.0,843.7 L1259.0,843.6 L1261.0,843.6 L1263.0,843.5 L1265.0,843.5 L1267.0,843.4 L1269.0,843.3 L1271.0,843.3 L1273.0,843.2 L1275.0,843.2 L1277.0,843.1 L1279.0,843.0 L1281.0,843.0 L1283.0,842.9 L1285.0,842.8 L1287.0,842.8 L1289.0,842.7 L1291.0,842.6 L1293.0,842.6 L1295.0,842.5 L1297.0,842.5 L1299.0,842.4 L1301.0,842.3 L1303.0,842.3 L1305.0,842.2 L1307.0,842.2 L1309.0,842.1 L1311.0,842.1 L1313.0,842.0 L1315.0,841.9 L1317.0,841.9 L1319.0,841.8 L1321.0,841.8 L1323.0,841.7 L1325.0,841.7 L1327.0,841.6 L1329.0,841.6 L1331.0,841.6 L1333.0,841.5 L1335.0,841.5 L1337.0,841.4 L1339.0,841.4 L1341.0,841.4 L1343.0,841.3 L1345.0,841.3 L1347.0,841.2 L1349.0,841.2 L1351.0,841.2 L1353.0,841.2 L1355.0,841.1 L1357.0,841.1 L1359.0,841.1 L1361.0,841.1 L1363.0,841.0 L1365.0,841.0 L1367.0,841.0 L1369.0,841.0 L1371.0,840.9 L1373.0,840.9 L1375.0,840.9 L1377.0,840.9 L1379.0,840.8 L1381.0,840.8 L1383.0,840.8 L1385.0,840.8 L1387.0,840.7 L1389.0,840.7 L1391.0,840.7 L1393.0,840.7 L1395.0,840.6 L1397.0,840.6 L1399.0,840.6 L1401.0,840.6 L1403.0,840.5 L1405.0,840.5 L1407.0,840.5 L1409.0,840.5 L1411.0,840.5 L1413.0,840.4 L1415.0,840.4 L1417.0,840.4 L1419.0,840.4 L1421.0,840.4 L1423.0,840.3 L1425.0,840.3 L1427.0,840.3 L1429.0,840.3 L1431.0,840.2 L1433.0,840.2 L1435.0,840.2 L1437.0,840.2 L1439.0,840.2 L1441.0,840.2 L1443.0,840.1 L1445.0,840.1 L1447.0,840.1 L1449.0,840.1 L1451.0,840.1 L1453.0,840.0 L1455.0,840.0 L1457.0,840.0 L1459.0,840.0 L1461.0,840.0 L1463.0,840.0 L1465.0,839.9 L1467.0,839.9 L1469.0,839.9 L1471.0,839.9 L1473.0,839.9 L1475.0,839.9 L1477.0,839.8 L1479.0,839.8 L1481.0,839.8 L1483.0,839.8 L1485.0,839.8 L1487.0,839.8 L1489.0,839.7 L1491.0,839.7 L1493.0,839.7 L1495.0,839.7 L1497.0,839.7 L1499.0,839.7 L1501.0,839.7 L1503.0,839.7 L1505.0,839.6 L1507.0,839.6 L1509.0,839.6 L1511.0,839.6 L1513.0,839.6 L1515.0,839.6 L1517.0,839.6 L1519.0,839.6 L1521.0,839.5 L1523.0,839.5 L1525.0,839.5 L1527.0,839.5 L1529.0,839.5 L1531.0,839.5 L1533.0,839.5 L1535.0,839.5 L1537.0,839.4 L1539.0,839.4 L1541.0,839.4 L1543.0,839.4 L1545.0,839.4 L1547.0,839.4 L1549.0,839.4 L1551.0,839.4 L1553.0,839.4 L1555.0,839.4 L1557.0,839.4 L1559.0,839.3 L1561.0,839.3 L1563.0,839.3 L1565.0,839.3 L1567.0,839.3 L1569.0,839.3 L1571.0,839.3 L1573.0,839.3 L1575.0,839.3 L1577.0,839.3 L1579.0,839.3 L1581.0,839.3 L1583.0,839.3 L1585.0,839.2 L1587.0,839.2 L1589.0,839.2 L1591.0,839.2 L1593.0,839.2 L1595.0,839.2 L1597.0,839.2 L1599.0,839.2 L1601.0,839.2 L1603.0,839.2 L1605.0,839.2 L1607.0,839.2 L1609.0,839.2 L1611.0,839.2 L1613.0,839.2 L1615.0,839.2 L1617.0,839.1 L1619.0,839.1 L1621.0,839.1 L1623.0,839.1 L1625.0,839.1 L1627.0,839.1 L1629.0,839.1 L1631.0,839.1 L1633.0,839.1 L1635.0,839.1 L1637.0,839.1 L1639.0,839.1 L1641.0,839.1 L1643.0,839.1 L1645.0,839.1 L1647.0,839.1 L1649.0,839.1 L1651.0,839.1 L1653.0,839.1 L1655.0,839.1 L1657.0,839.1 L1659.0,839.0 L1661.0,839.0 L1663.0,839.0 L1665.0,839.0 L1667.0,839.0 L1669.0,839.0 L1671.0,839.0 L1673.0,839.0 L1675.0,839.0 L1677.0,839.0 L1679.0,839.0 L1681.0,839.0 L1683.0,839.0 L1685.0,839.0 L1687.0,839.0 L1689.0,839.0 L1691.0,839.0 L1693.0,839.0 L1695.0,839.0 L1697.0,839.0 L1699.0,839.0 L1701.0,839.0 L1703.0,839.0 L1705.0,839.0 L1707.0,838.9 L1709.0,838.9 L1711.0,838.9 L1713.0,838.9 L1715.0,838.9 L1717.0,838.9 L1719.0,838.9 L1721.0,838.9 L1723.0,838.9 L1725.0,838.9 L1727.0,838.9 L1729.0,838.9 L1731.0,838.9 L1733.0,838.9 L1735.0,838.9 L1737.0,838.9 L1739.0,838.9 L1741.0,838.9 L1743.0,838.9 L1745.0,838.9 L1747.0,838.9 L1749.0,838.9 L1751.0,838.9 L1753.0,838.9 L1755.0,838.9 L1757.0,838.9 L1759.0,838.9 L1761.0,838.9 L1763.0,838.9 L1765.0,838.8 L1767.0,838.8 L1769.0,838.8 L1771.0,838.8 L1773.0,838.8 L1775.0,838.8 L1777.0,838.8 L1779.0,838.8 L1781.0,838.8 L1783.0,838.8 L1785.0,838.8 L1787.0,838.8 L1789.0,838.8 L1791.0,838.8 L1793.0,838.8 L1795.0,838.8 L1797.0,838.8 L1799.0,838.8 L1801.0,838.8 L1803.0,838.8 L1805.0,838.8 L1807.0,838.8 L1809.0,838.8 L1811.0,838.8 L1813.0,838.8 L1815.0,838.8 L1817.0,838.8 L1819.0,838.7 L1821.0,838.7 L1823.0,838.7 L1825.0,838.7 L1827.0,838.7 L1829.0,838.7 L1831.0,838.7 L1833.0,838.7 L1835.0,838.7 L1837.0,838.7 L1839.0,838.7 L1841.0,838.7 L1843.0,838.7 L1845.0,838.7 L1847.0,838.7 L1849.0,838.7 L1851.0,838.7 L1853.0,838.7 L1855.0,838.7 L1857.0,838.7 L1859.0,838.7 L1861.0,838.7 L1863.0,838.7 L1865.0,838.7 L1867.0,838.7 L1869.0,838.7 L1871.0,838.7 L1873.0,838.7 L1875.0,838.6 L1877.0,838.6 L1879.0,838.6 L1881.0,838.6 L1883.0,838.6 L1885.0,838.6 L1887.0,838.6 L1889.0,838.6 L1891.0,838.6 L1893.0,838.6 L1895.0,838.6 L1897.0,838.6 L1899.0,838.6 L1901.0,838.6 L1903.0,838.6 L1905.0,838.6 L1907.0,838.6 L1909.0,838.6 L1911.0,838.6 L1913.0,838.6 L1915.0,838.6 L1917.0,838.6 L1919.0,838.6 L1921.0,838.6 L1923.0,838.6 L1925.0,838.6 L1927.0,838.6 L1929.0,838.6 L1931.0,838.5 L1933.0,838.5 L1935.0,838.5 L1937.0,838.5 L1939.0,838.5 L1941.0,838.5 L1943.0,838.5 L1945.0,838.5 L1947.0,838.5 L1949.0,838.5 L1951.0,838.5 L1953.0,838.5 L1955.0,838.5 L1957.0,838.5 L1959.0,838.5 L1961.0,838.5 L1963.0,838.5 L1965.0,838.5 L1967.0,838.5 L1969.0,838.5 L1971.0,838.5 L1973.0,838.5 L1975.0,838.5 L1977.0,838.5 L1979.0,838.5 L1981.0,838.5 L1983.0,838.5 L1985.0,838.5 L1987.0,838.5 L1989.0,838.5 L1991.0,838.5 L1993.0,838.4 L1995.0,838.4 L1997.0,838.4 L1999.0,838.4 L2001.0,838.4 L2003.0,838.4 L2005.0,838.4 L2007.0,838.4 L2009.0,838.4 L2011.0,838.4 L2013.0,838.4 L2015.0,838.4 L2017.0,838.4 L2019.0,838.4 L2021.0,838.4 L2023.0,838.4 L2025.0,838.4 L2027.0,838.4 L2029.0,838.4 L2031.0,838.4 L2033.0,838.4 L2034.0,838.4" stroke="#00ff00"/>
<path d="M211.0,1427.0 L213.0,1426.9 L215.0,1426.8 L217.0,1426.7 L219.0,1426.6 L221.0,1426.5 L223.0,1426.4 L225.0,1426.3 L227.0,1426.2 L229.0,1426.1 L231.0,1426.0 L233.0,1425.9 L235.0,1425.8 L237.0,1425.6 L239.0,1425.5 L241.0,1425.4 L243.0,1425.3 L245.0,1425.1 L247.0,1425.0 L249.0,1424.9 L251.0,1424.7 L253.0,1424.6 L255.0,1424.4 L257.0,1424.3 L259.0,1424.1 L261.0,1424.0 L263.0,1423.8 L265.0,1423.7 L267.0,1423.5 L269.0,1423.4 L271.0,1423.2 L273.0,1423.0 L275.0,1422.9 L277.0,1422.7 L279.0,1422.5 L281.0,1422.3 L283.0,1422.2 L285.0,1422.0 L287.0,1421.8 L289.0,1421.6 L291.0,1421.5 L293.0,1421.3 L295.0,1421.1 L297.0,1420.9 L299.0,1420.7 L301.0,1420.5 L303.0,1420.3 L305.0,1420.2 L307.0,1420.0 L309.0,1419.8 L311.0,1419.6 L313.0,1419.4 L315.0,1419.2 L317.0,1419.0 L319.0,1418.8 L321.0,1418.6 L323.0,1418.4 L325.0,1418.2 L327.0,1418.0 L329.0,1417.8 L331.0,1417.5 L333.0,1417.3 L335.0,1417.1 L337.0,1416.9 L339.0,1416.7 L341.0,1416.5 L343.0,1416.2 L345.0,1416.0 L347.0,1415.8 L349.0,1415.6 L351.0,1415.3 L353.0,1415.1 L355.0,1414.8 L357.0,1414.6 L359.0,1414.4 L361.0,1414.1 L363.0,1413.8 L365.0,1413.6 L367.0,1413.3 L369.0,1413.1 L371.0,1412.8 L373.0,1412.5 L375.0,1412.3 L377.0,1412.0 L379.0,1411.7 L381.0,1411.4 L383.0,1411.1 L385.0,1410.8 L387.0,1410.5 L389.0,1410.2 L391.0,1409.9 L393.0,1409.6 L395.0,1409.3 L397.0,1409.0 L399.0,1408.7 L401.0,1408.4 L403.0,1408.0 L405.0,1407.7 L407.0,1407.4 L409.0,1407.0 L411.0,1406.7 L413.0,1406.3 L415.0,1406.0 L417.0,1405.6 L419.0,1405.2 L421.0,1404.9 L423.0,1404.5 L425.0,1404.1 L427.0,1403.7 L429.0,1403.3 L431.0,1402.9 L433.0,1402.5 L435.0,1402.1 L437.0,1401.7 L439.0,1401.3 L441.0,1400.9 L443.0,1400.4 L445.0,1399.9 L447.0,1399.4 L449.0,1398.9 L451.0,1398.3 L453.0,1397.8 L455.0,1397.2 L457.0,1396.6 L459.0,1396.0 L461.0,1395.4 L463.0,1394.7 L465.0,1394.1 L467.0,1393.4 L469.0,1392.7 L471.0,1392.0 L473.0,1391.4 L475.0,1390.7 L477.0,1390.0 L479.0,1389.2 L481.0,1388.5 L483.0,1387.8 L485.0,1387.1 L487.0,1386.4 L489.0,1385.7 L491.0,1385.0 L493.0,1384.2 L495.0,1383.5 L497.0,1382.7 L499.0,1381.9 L501.0,1381.1 L503.0,1380.3 L505.0,1379.5 L507.0,1378.7 L509.0,1377.9 L511.0,1377.0 L513.0,1376.1 L515.0,1375.3 L517.0,1374.3 L519.0,1373.4 L521.0,1372.5 L523.0,1371.5 L525.0,1370.6 L527.0,1369.6 L529.0,1368.6 L531.0,1367.5 L533.0,1366.5 L535.0,1365.4 L537.0,1364.4 L539.0,1363.2 L541.0,1362.1 L543.0,1361.0 L545.0,1359.8 L547.0,1358.6 L549.0,1357.3 L551.0,1356.1 L553.0,1354.8 L555.0,1353.4 L557.0,1352.1 L559.0,1350.7 L561.0,1349.2 L563.0,1347.7 L565.0,1346.2 L567.0,1344.6 L569.0,1343.0 L571.0,1341.3 L573.0,1339.5 L575.0,1337.7 L577.0,1335.9 L579.0,1334.0 L581.0,1332.0 L583.0,1330.0 L585.0,1327.9 L587.0,1325.8 L589.0,1323.5 L591.0,1321.2 L593.0,1318.8 L595.0,1316.3 L597.0,1313.7 L599.0,1311.0 L601.0,1308.2 L603.0,1305.4 L605.0,1302.5 L607.0,1299.5 L609.0,1296.5 L611.0,1293.4 L613.0,1290.3 L615.0,1287.1 L617.0,1283.7 L619.0,1280.2 L621.0,1276.6 L623.0,1272.8 L625.0,1269.0 L627.0,1265.1 L629.0,1261.1 L631.0,1257.1 L633.0,1253.1 L635.0,1249.0 L637.0,1244.9 L639.0,1240.7 L641.0,1236.4 L643.0,1232.0 L645.0,1227.5 L647.0,1222.9 L649.0,1218.2 L651.0,1213.3 L653.0,1208.2 L655.0,1202.9 L657.0,1197.4 L659.0,1191.8 L661.0,1186.1 L663.0,1180.4 L665.0,1174.8 L667.0,1169.3 L669.0,1164.0 L671.0,1158.8 L673.0,1153.6 L675.0,1148.3 L677.0,1143.1 L679.0,1138.0 L681.0,1132.8 L683.0,1127.7 L685.0,1122.7 L687.0,1117.6 L689.0,1112.7 L691.0,1107.8 L693.0,1103.0 L695.0,1098.3 L697.0,1093.7 L699.0,1089.1 L701.0,1084.7 L703.0,1080.4 L705.0,1076.1 L707.0,1071.8 L709.0,1067.6 L711.0,1063.5 L713.0,1059.3 L715.0,1055.3 L717.0,1051.2 L719.0,1047.3 L721.0,1043.4 L723.0,1039.5 L725.0,1035.7 L727.0,1032.0 L729.0,1028.4 L731.0,1024.9 L733.0,1021.4 L735.0,1018.0 L737.0,1014.8 L739.0,1011.6 L741.0,1008.5 L743.0,1005.4 L745.0,1002.5 L747.0,999.5 L749.0,996.7 L751.0,993.9 L753.0,991.1 L755.0,988.4 L757.0,985.7 L759.0,983.1 L761.0,980.5 L763.0,977.9 L765.0,975.4 L767.0,973.0 L769.0,970.6 L771.0,968.2 L773.0,965.9 L775.0,963.6 L777.0,961.3 L779.0,959.1 L781.0,956.9 L783.0,954.7 L785.0,952.6 L787.0,950.5 L789.0,948.5 L791.0,946.5 L793.0,944.6 L795.0,942.7 L797.0,940.8 L799.0,939.0 L801.0,937.2 L803.0,935.5 L805.0,933.8 L807.0,932.2 L809.0,930.5 L811.0,928.9 L813.0,927.4 L815.0,925.8 L817.0,924.3 L819.0,922.8 L821.0,921.3 L823.0,919.9 L825.0,918.4 L827.0,917.1 L829.0,915.7 L831.0,914.4 L833.0,913.1 L835.0,911.8 L837.0,910.6 L839.0,909.4 L841.0,908.3 L843.0,907.1 L845.0,906.0 L847.0,904.9 L849.0,903.9 L851.0,902.8 L853.0,901.7 L855.0,900.7 L857.0,899.7 L859.0,898.7 L861.0,897.7 L863.0,896.7 L865.0,895.8 L867.0,894.9 L869.0,893.9 L871.0,893.0 L873.0,892.1 L875.0,891.2 L877.0,890.4 L879.0,889.5 L881.0,888.7 L883.0,887.8 L885.0,887.0 L887.0,886.2 L889.0,885.4 L891.0,884.7 L893.0,883.9 L895.0,883.1 L897.0,882.4 L899.0,881.7 L901.0,880.9 L903.0,880.2 L905.0,879.5 L907.0,878.8 L909.0,878.1 L911.0,877.4 L913.0,876.7 L915.0,876.1 L917.0,875.4 L919.0,874.8 L921.0,874.1 L923.0,873.5 L925.0,872.8 L927.0,872.2 L929.0,871.6 L931.0,871.0 L933.0,870.4 L935.0,869.8 L937.0,869.2 L939.0,868.7 L941.0,868.1 L943.0,867.5 L945.0,867.0 L947.0,866.4 L949.0,865.9 L951.0,865.4 L953.0,864.9 L955.0,864.4 L957.0,863.9 L959.0,863.4 L961.0,862.9 L963.0,862.4 L965.0,862.0 L967.0,861.5 L969.0,861.1 L971.0,860.6 L973.0,860.2 L975.0,859.8 L977.0,859.4 L979.0,858.9 L981.0,858.5 L983.0,858.1 L985.0,857.8 L987.0,857.4 L989.0,857.0 L991.0,856.6 L993.0,856.2 L995.0,855.9 L997.0,855.5 L999.0,855.1 L1001.0,854.7 L1003.0,854.4 L1005.0,854.0 L1007.0,853.6 L1009.0,853.3 L1011.0,852.9 L1013.0,852.5 L1015.0,852.1 L1017.0,851.8 L1019.0,851.4 L1021.0,851.1 L1023.0,850.7 L1025.0,850.3 L1027.0,850.0 L1029.0,849.6 L1031.0,849.3 L1033.0,848.9 L1035.0,848.6 L1037.0,848.2 L1039.0,847.9 L1041.0,847.5 L1043.0,847.2 L1045.0,846.8 L1047.0,846.5 L1049.0,846.2 L1051.0,845.8 L1053.0,845.5 L1055.0,845.2 L1057.0,844.9 L1059.0,844.5 L1061.0,844.2 L1063.0,843.9 L1065.0,843.6 L1067.0,843.3 L1069.0,843.0 L1071.0,842.7 L1073.0,842.4 L1075.0,842.1 L1077.0,841.8 L1079.0,841.5 L1081.0,841.3 L1083.0,841.0 L1085.0,840.7 L1087.0,840.4 L1089.0,840.1 L1091.0,839.9 L1093.0,839.6 L1095.0,839.3 L1097.0,839.1 L1099.0,838.8 L1101.0,838.5 L1103.0,838.3 L1105.0,838.0 L1107.0,837.8 L1109.0,837.5 L1111.0,837.3 L1113.0,837.0 L1115.0,836.8 L1117.0,836.5 L1119.0,836.3 L1121.0,836.1 L1122.5,835.9 L1123.0,835.9 L1125.0,835.7 L1127.0,835.6 L1129.0,835.5 L1131.0,835.4 L1133.0,835.2 L1135.0,835.1 L1137.0,835.0 L1139.0,834.9 L1141.0,834.8 L1143.0,834.7 L1145.0,834.5 L1147.0,834.4 L1149.0,834.3 L1151.0,834.2 L1153.0,834.1 L1155.0,834.0 L1157.0,833.9 L1159.0,833.8 L1161.0,833.7 L1163.0,833.6 L1165.0,833.5 L1167.0,833.4 L1169.0,833.3 L1171.0,833.2 L1173.0,833.1 L1175.0,833.0 L1177.0,832.9 L1179.0,832.8 L1181.0,832.7 L1183.0,832.6 L1185.0,832.5 L1187.0,832.4 L1189.0,832.4 L1191.0,832.3 L1193.0,832.2 L1195.0,832.1 L1197.0,832.0 L1199.0,832.0 L1201.0,831.9 L1203.0,831.8 L1205.0,831.7 L1207.0,831.7 L1209.0,831.6 L1211.0,831.5 L1213.0,831.5 L1215.0,831.4 L1217.0,831.3 L1219.0,831.3 L1221.0,831.2 L1223.0,831.1 L1225.0,831.1 L1227.0,831.0 L1229.0,830.9 L1231.0,830.9 L1233.0,830.8 L1235.0,830.8 L1237.0,830.7 L1239.0,830.6 L1241.0,830.6 L1243.0,830.5 L1245.0,830.5 L1247.0,830.4 L1249.0,830.3 L1251.0,830.3 L1253.0,830.2 L1255.0,830.1 L1257.0,830.1 L1259.0,830.0 L1261.0,829.9 L1263.0,829.9 L1265.0,829.8 L1267.0,829.7 L1269.0,829.7 L1271.0,829.6 L1273.0,829.5 L1275.0,829.5 L1277.0,829.4 L1279.0,829.4 L1281.0,829.3 L1283.0,829.2 L1285.0,829.2 L1287.0,829.1 L1289.0,829.0 L1291.0,829.0 L1293.0,828.9 L1295.0,828.9 L1297.0,828.8 L1299.0,828.7 L1301.0,828.7 L1303.0,828.6 L1305.0,828.6 L1307.0,828.5 L1309.0,828.5 L1311.0,828.4 L1313.0,828.4 L1315.0,828.3 L1317.0,828.3 L1319.0,828.2 L1321.0,828.2 L1323.0,828.2 L1325.0,828.1 L1327.0,828.1 L1329.0,828.1 L1331.0,828.0 L1333.0,828.0 L1335.0,828.0 L1337.0,828.0 L1339.0,827.9 L1341.0,827.9 L1343.0,827.9 L1345.0,827.9 L1347.0,827.9 L1349.0,827.9 L1351.0,827.9 L1353.0,827.8 L1355.0,827.8 L1357.0,827.8 L1359.0,827.8 L1361.0,827.8 L1363.0,827.8 L1365.0,827.8 L1367.0,827.8 L1369.0,827.8 L1371.0,827.8 L1373.0,827.8 L1375.0,827.8 L1377.0,827.8 L1379.0,827.8 L1381.0,827.8 L1383.0,827.8 L1385.0,827.8 L1387.0,827.8 L1389.0,827.7 L1391.0,827.7 L1393.0,827.7 L1395.0,827.7 L1397.0,827.7 L1399.0,827.7 L1401.0,827.7 L1403.0,827.7 L1405.0,827.7 L1407.0,827.7 L1409.0,827.7 L1411.0,827.7 L1413.0,827.7 L1415.0,827.7 L1417.0,827.7 L1419.0,827.7 L1421.0,827.7 L1423.0,827.7 L1425.0,827.7 L1427.0,827.7 L1429.0,827.7 L1431.0,827.7 L1433.0,827.7 L1435.0,827.7 L1437.0,827.7 L1439.0,827.7 L1441.0,827.7 L1443.0,827.6 L1445.0,827.6 L1447.0,827.6 L1449.0,827.6 L1451.0,827.6 L1453.0,827.6 L1455.0,827.6 L1457.0,827.6 L1459.0,827.6 L1461.0,827.6 L1463.0,827.6 L1465.0,827.6 L1467.0,827.6 L1469.0,827.6 L1471.0,827.6 L1473.0,827.6 L1475.0,827.6 L1477.0,827.6 L1479.0,827.6 L1481.0,827.6 L1483.0,827.6 L1485.0,827.6 L1487.0,827.6 L1489.0,827.6 L1491.0,827.6 L1493.0,827.6 L1495.0,827.6 L1497.0,827.6 L1499.0,827.6 L1501.0,827.6 L1503.0,827.6 L1505.0,827.6 L1507.0,827.6 L1509.0,827.6 L1511.0,827.6 L1513.0,827.6 L1515.0,827.6 L1517.0,827.6 L1519.0,827.6 L1521.0,827.6 L1523.0,827.6 L1525.0,827.6 L1527.0,827.6 L1529.0,827.6 L1531.0,827.6 L1533.0,827.6 L1535.0,827.6 L1537.0,827.6 L1539.0,827.5 L1541.0,827.5 L1543.0,827.5 L1545.0,827.5 L1547.0,827.5 L1549.0,827.5 L1551.0,827.5 L1553.0,827.5 L1555.0,827.5 L1557.0,827.5 L1559.0,827.5 L1561.0,827.5 L1563.0,827.5 L1565.0,827.5 L1567.0,827.5 L1569.0,827.5 L1571.0,827.5 L1573.0,827.5 L1575.0,827.5 L1577.0,827.5 L1579.0,827.5 L1581.0,827.5 L1583.0,827.5 L1585.0,827.5 L1587.0,827.5 L1589.0,827.5 L1591.0,827.5 L1593.0,827.5 L1595.0,827.5 L1597.0,827.5 L1599.0,827.5 L1601.0,827.5 L1603.0,827.5 L1605.0,827.5 L1607.0,827.5 L1609.0,827.5 L1611.0,827.5 L1613.0,827.5 L1615.0,827.5 L1617.0,827.5 L1619.0,827.5 L1621.0,827.5 L1623.0,827.5 L1625.0,827.5 L1627.0,827.5 L1629.0,827.5 L1631.0,827.5 L1633.0,827.5 L1635.0,827.5 L1637.0,827.5 L1639.0,827.5 L1641.0,827.5 L1643.0,827.5 L1645.0,827.5 L1647.0,827.5 L1649.0,827.5 L1651.0,827.5 L1653.0,827.5 L1655.0,827.5 L1657.0,827.5 L1659.0,827.5 L1661.0,827.5 L1663.0,827.5 L1665.0,827.5 L1667.0,827.5 L1669.0,827.5 L1671.0,827.5 L1673.0,827.5 L1675.0,827.5 L1677.0,827.5 L1679.0,827.5 L1681.0,827.5 L1683.0,827.5 L1685.0,827.5 L1687.0,827.5 L1689.0,827.5 L1691.0,827.5 L1693.0,827.5 L1695.0,827.5 L1697.0,827.5 L1699.0,827.5 L1701.0,827.5 L1703.0,827.5 L1705.0,827.5 L1707.0,827.5 L1709.0,827.5 L1711.0,827.5 L1713.0,827.5 L1715.0,827.4 L1717.0,827.4 L1719.0,827.4 L1721.0,827.4 L1723.0,827.4 L1725.0,827.4 L1727.0,827.4 L1729.0,827.4 L1731.0,827.4 L1733.0,827.4 L1735.0,827.4 L1737.0,827.4 L1739.0,827.4 L1741.0,827.4 L1743.0,827.4 L1745.0,827.4 L1747.0,827.4 L1749.0,827.4 L1751.0,827.4 L1753.0,827.4 L1755.0,827.4 L1757.0,827.4 L1759.0,827.4 L1761.0,827.4 L1763.0,827.4 L1765.0,827.4 L1767.0,827.4 L1769.0,827.4 L1771.0,827.4 L1773.0,827.4 L1775.0,827.4 L1777.0,827.4 L1779.0,827.4 L1781.0,827.4 L1783.0,827.4 L1785.0,827.4 L1787.0,827.4 L1789.0,827.4 L1791.0,827.4 L1793.0,827.4 L1795.0,827.4 L1797.0,827.4 L1799.0,827.4 L1801.0,827.4 L1803.0,827.4 L1805.0,827.4 L1807.0,827.4 L1809.0,827.4 L1811.0,827.4 L1813.0,827.4 L1815.0,827.4 L1817.0,827.4 L1819.0,827.4 L1821.0,827.4 L1823.0,827.4 L1825.0,827.4 L1827.0,827.4 L1829.0,827.4 L1831.0,827.4 L1833.0,827.4 L1835.0,827.4 L1837.0,827.4 L1839.0,827.4 L1841.0,827.4 L1843.0,827.4 L1845.0,827.4 L1847.0,827.4 L1849.0,827.4 L1851.0,827.4 L1853.0,827.4 L1855.0,827.4 L1857.0,827.4 L1859.0,827.4 L1861.0,827.4 L1863.0,827.4 L1865.0,827.4 L1867.0,827.4 L1869.0,827.4 L1871.0,827.4 L1873.0,827.4 L1875.0,827.4 L1877.0,827.4 L1879.0,827.4 L1881.0,827.4 L1883.0,827.4 L1885.0,827.4 L1887.0,827.4 L1889.0,827.4 L1891.0,827.4 L1893.0,827.4 L1895.0,827.4 L1897.0,827.4 L1899.0,827.4 L1901.0,827.4 L1903.0,827.4 L1905.0,827.4 L1907.0,827.4 L1909.0,827.4 L1911.0,827.4 L1913.0,827.4 L1915.0,827.4 L1917.0,827.4 L1919.0,827.4 L1921.0,827.4 L1923.0,827.4 L1925.0,827.4 L1927.0,827.4 L1929.0,827.4 L1931.0,827.4 L1933.0,827.3 L1935.0,827.3 L1937.0,827.3 L1939.0,827.3 L1941.0,827.3 L1943.0,827.3 L1945.0,827.3 L1947.0,827.3 L1949.0,827.3 L1951.0,827.3 L1953.0,827.3 L1955.0,827.3 L1957.0,827.3 L1959.0,827.3 L1961.0,827.3 L1963.0,827.3 L1965.0,827.3 L1967.0,827.3 L1969.0,827.3 L1971.0,827.3 L1973.0,827.3 L1975.0,827.3 L1977.0,827.3 L1979.0,827.3 L1981.0,827.3 L1983.0,827.3 L1985.0,827.3 L1987.0,827.3 L1989.0,827.3 L1991.0,827.3 L1993.0,827.3 L1995.0,827.3 L1997.0,827.3 L1999.0,827.3 L2001.0,827.3 L2003.0,827.3 L2005.0,827.3 L2007.0,827.3 L2009.0,827.3 L2011.0,827.3 L2013.0,827.3 L2015.0,827.3 L2017.0,827.3 L2019.0,827.3 L2021.0,827.3 L2023.0,827.3 L2025.0,827.3 L2027.0,827.3 L2029.0,827.3 L2031.0,827.3 L2033.0,827.3 L2034.0,827.3" stroke="#0000ff"/>
<path d="M211.0,1427.0 L213.0,1426.9 L215.0,1426.8 L217.0,1426.7 L219.0,1426.6 L221.0,1426.5 L223.0,1426.4 L225.0,1426.3 L227.0,1426.2 L229.0,1426.1 L231.0,1426.0 L233.0,1425.9 L235.0,1425.8 L237.0,1425.6 L239.0,1425.5 L241.0,1425.4 L243.0,1425.3 L245.0,1425.1 L247.0,1425.0 L249.0,1424.9 L251.0,1424.7 L253.0,1424.6 L255.0,1424.4 L257.0,1424.3 L259.0,1424.1 L261.0,1424.0 L263.0,1423.8 L265.0,1423.7 L267.0,1423.5 L269.0,1423.4 L271.0,1423.2 L273.0,1423.0 L275.0,1422.9 L277.0,1422.7 L279.0,1422.5 L281.0,1422.3 L283.0,1422.2 L285.0,1422.0 L287.0,1421.8 L289.0,1421.6 L291.0,1421.5 L293.0,1421.3 L295.0,1421.1 L297.0,1420.9 L299.0,1420.7 L301.0,1420.5 L303.0,1420.3 L305.0,1420.1 L307.0,1420.0 L309.0,1419.8 L311.0,1419.6 L313.0,1419.4 L315.0,1419.2 L317.0,1419.0 L319.0,1418.8 L321.0,1418.6 L323.0,1418.4 L325.0,1418.2 L327.0,1418.0 L329.0,1417.8 L331.0,1417.5 L333.0,1417.3 L335.0,1417.1 L337.0,1416.9 L339.0,1416.7 L341.0,1416.5 L343.0,1416.2 L345.0,1416.0 L347.0,1415.8 L349.0,1415.6 L351.0,1415.3 L353.0,1415.1 L355.0,1414.8 L357.0,1414.6 L359.0,1414.4 L361.0,1414.1 L363.0,1413.9 L365.0,1413.6 L367.0,1413.3 L369.0,1413.1 L371.0,1412.8 L373.0,1412.5 L375.0,1412.3 L377.0,1412.0 L379.0,1411.7 L381.0,1411.4 L383.0,1411.1 L385.0,1410.8 L387.0,1410.6 L389.0,1410.3 L391.0,1410.0 L393.0,1409.6 L395.0,1409.3 L397.0,1409.0 L399.0,1408.7 L401.0,1408.4 L403.0,1408.0 L405.0,1407.7 L407.0,1407.4 L409.0,1407.0 L411.0,1406.7 L413.0,1406.3 L415.0,1406.0 L417.0,1405.6 L419.0,1405.3 L421.0,1404.9 L423.0,1404.5 L425.0,1404.1 L427.0,1403.7 L429.0,1403.4 L431.0,1403.0 L433.0,1402.6 L435.0,1402.2 L437.0,1401.7 L439.0,1401.3 L441.0,1400.9 L443.0,1400.4 L445.0,1400.0 L447.0,1399.5 L449.0,1399.0 L451.0,1398.4 L453.0,1397.9 L455.0,1397.3 L457.0,1396.7 L459.0,1396.1 L461.0,1395.4 L463.0,1394.8 L465.0,1394.1 L467.0,1393.5 L469.0,1392.8 L471.0,1392.1 L473.0,1391.4 L475.0,1390.8 L477.0,1390.1 L479.0,1389.3 L481.0,1388.6 L483.0,1387.9 L485.0,1387.2 L487.0,1386.5 L489.0,1385.8 L491.0,1385.1 L493.0,1384.3 L495.0,1383.6 L497.0,1382.8 L499.0,1382.1 L501.0,1381.3 L503.0,1380.5 L505.0,1379.7 L507.0,1378.9 L509.0,1378.0 L511.0,1377.2 L513.0,1376.3 L515.0,1375.4 L517.0,1374.5 L519.0,1373.6 L521.0,1372.7 L523.0,1371.7 L525.0,1370.8 L527.0,1369.8 L529.0,1368.8 L531.0,1367.8 L533.0,1366.7 L535.0,1365.7 L537.0,1364.6 L539.0,1363.5 L541.0,1362.4 L543.0,1361.2 L545.0,1360.0 L547.0,1358.8 L549.0,1357.6 L551.0,1356.3 L553.0,1355.1 L555.0,1353.7 L557.0,1352.4 L559.0,1351.0 L561.0,1349.6 L563.0,1348.1 L565.0,1346.6 L567.0,1345.0 L569.0,1343.4 L571.0,1341.7 L573.0,1340.0 L575.0,1338.2 L577.0,1336.4 L579.0,1334.5 L581.0,1332.5 L583.0,1330.5 L585.0,1328.5 L587.0,1326.3 L589.0,1324.1 L591.0,1321.8 L593.0,1319.4 L595.0,1317.0 L597.0,1314.4 L599.0,1311.7 L601.0,1309.0 L603.0,1306.2 L605.0,1303.3 L607.0,1300.4 L609.0,1297.4 L611.0,1294.3 L613.0,1291.2 L615.0,1288.0 L617.0,1284.7 L619.0,1281.3 L621.0,1277.7 L623.0,1274.0 L625.0,1270.2 L627.0,1266.3 L629.0,1262.4 L631.0,1258.4 L633.0,1254.4 L635.0,1250.3 L637.0,1246.2 L639.0,1242.0 L641.0,1237.7 L643.0,1233.4 L645.0,1229.0 L647.0,1224.4 L649.0,1219.7 L651.0,1215.0 L653.0,1210.0 L655.0,1204.7 L657.0,1199.3 L659.0,1193.7 L661.0,1188.1 L663.0,1182.4 L665.0,1176.8 L667.0,1171.2 L669.0,1165.9 L671.0,1160.6 L673.0,1155.4 L675.0,1150.2 L677.0,1145.0 L679.0,1139.9 L681.0,1134.7 L683.0,1129.6 L685.0,1124.5 L687.0,1119.5 L689.0,1114.5 L691.0,1109.7 L693.0,1104.8 L695.0,1100.1 L697.0,1095.4 L699.0,1090.9 L701.0,1086.4 L703.0,1082.1 L705.0,1077.8 L707.0,1073.6 L709.0,1069.4 L711.0,1065.3 L713.0,1061.1 L715.0,1057.1 L717.0,1053.1 L719.0,1049.1 L721.0,1045.2 L723.0,1041.4 L725.0,1037.6 L727.0,1033.9 L729.0,1030.3 L731.0,1026.7 L733.0,1023.3 L735.0,1019.9 L737.0,1016.5 L739.0,1013.3 L741.0,1010.2 L743.0,1007.1 L745.0,1004.1 L747.0,1001.1 L749.0,998.2 L751.0,995.4 L753.0,992.6 L755.0,989.8 L757.0,987.1 L759.0,984.4 L761.0,981.8 L763.0,979.2 L765.0,976.7 L767.0,974.2 L769.0,971.7 L771.0,969.3 L773.0,966.9 L775.0,964.6 L777.0,962.2 L779.0,960.0 L781.0,957.7 L783.0,955.5 L785.0,953.3 L787.0,951.2 L789.0,949.1 L791.0,947.1 L793.0,945.1 L795.0,943.1 L797.0,941.2 L799.0,939.3 L801.0,937.5 L803.0,935.6 L805.0,933.9 L807.0,932.1 L809.0,930.3 L811.0,928.6 L813.0,926.8 L815.0,925.1 L817.0,923.4 L819.0,921.7 L821.0,920.0 L823.0,918.4 L825.0,916.8 L827.0,915.2 L829.0,913.7 L831.0,912.1 L833.0,910.7 L835.0,909.3 L837.0,907.9 L839.0,906.6 L841.0,905.3 L843.0,904.0 L845.0,902.8 L847.0,901.6 L849.0,900.4 L851.0,899.2 L853.0,898.1 L855.0,896.9 L857.0,895.8 L859.0,894.7 L861.0,893.6 L863.0,892.5 L865.0,891.5 L867.0,890.4 L869.0,889.4 L871.0,888.4 L873.0,887.4 L875.0,886.5 L877.0,885.5 L879.0,884.6 L881.0,883.6 L883.0,882.7 L885.0,881.8 L887.0,881.0 L889.0,880.1 L891.0,879.3 L893.0,878.4 L895.0,877.6 L897.0,876.8 L899.0,876.0 L901.0,875.2 L903.0,874.5 L905.0,873.7 L907.0,872.9 L909.0,872.2 L911.0,871.4 L913.0,870.7 L915.0,870.0 L917.0,869.3 L919.0,868.6 L921.0,867.9 L923.0,867.2 L925.0,866.5 L927.0,865.9 L929.0,865.2 L931.0,864.6 L933.0,863.9 L935.0,863.3 L937.0,862.7 L939.0,862.1 L941.0,861.5 L943.0,860.9 L945.0,860.3 L947.0,859.7 L949.0,859.1 L951.0,858.6 L953.0,858.0 L955.0,857.5 L957.0,856.9 L959.0,856.4 L961.0,855.9 L963.0,855.3 L965.0,854.8 L967.0,854.3 L969.0,853.8 L971.0,853.4 L973.0,852.9 L975.0,852.4 L977.0,852.0 L979.0,851.5 L981.0,851.1 L983.0,850.6 L985.0,850.2 L987.0,849.7 L989.0,849.3 L991.0,848.9 L993.0,848.5 L995.0,848.1 L997.0,847.7 L999.0,847.3 L1001.0,846.9 L1003.0,846.5 L1005.0,846.1 L1007.0,845.7 L1009.0,845.3 L1011.0,844.9 L1013.0,844.5 L1015.0,844.2 L1017.0,843.8 L1019.0,843.4 L1021.0,843.1 L1023.0,842.7 L1025.0,842.4 L1027.0,842.0 L1029.0,841.7 L1031.0,841.3 L1033.0,841.0 L1035.0,840.6 L1037.0,840.3 L1039.0,840.0 L1041.0,839.6 L1043.0,839.3 L1045.0,839.0 L1047.0,838.6 L1049.0,838.3 L1051.0,838.0 L1053.0,837.7 L1055.0,837.4 L1057.0,837.0 L1059.0,836.7 L1061.0,836.4 L1063.0,836.1 L1065.0,835.8 L1067.0,835.5 L1069.0,835.2 L1071.0,834.9 L1073.0,834.6 L1075.0,834.3 L1077.0,834.0 L1079.0,833.7 L1081.0,833.4 L1083.0,833.1 L1085.0,832.8 L1087.0,832.5 L1089.0,832.2 L1091.0,831.9 L1093.0,831.6 L1095.0,831.3 L1097.0,831.1 L1099.0,830.8 L1101.0,830.5 L1103.0,830.2 L1105.0,829.9 L1107.0,829.7 L1109.0,829.4 L1111.0,829.1 L1113.0,828.9 L1115.0,828.6 L1117.0,828.3 L1119.0,828.1 L1121.0,827.8 L1122.5,827.6 L1123.0,827.6 L1125.0,827.5 L1127.0,827.4 L1129.0,827.3 L1131.0,827.1 L1133.0,827.0 L1135.0,826.9 L1137.0,826.8 L1139.0,826.7 L1141.0,826.6 L1143.0,826.5 L1145.0,826.4 L1147.0,826.3 L1149.0,826.2 L1151.0,826.1 L1153.0,826.0 L1155.0,825.9 L1157.0,825.8 L1159.0,825.7 L1161.0,825.6 L1163.0,825.5 L1165.0,825.4 L1167.0,825.3 L1169.0,825.2 L1171.0,825.1 L1173.0,825.0 L1175.0,825.0 L1177.0,824.9 L1179.0,824.8 L1181.0,824.7 L1183.0,824.6 L1185.0,824.6 L1187.0,824.5 L1189.0,824.4 L1191.0,824.3 L1193.0,824.3 L1195.0,824.2 L1197.0,824.1 L1199.0,824.1 L1201.0,824.0 L1203.0,823.9 L1205.0,823.9 L1207.0,823.8 L1209.0,823.8 L1211.0,823.7 L1213.0,823.6 L1215.0,823.6 L1217.0,823.5 L1219.0,823.5 L1221.0,823.4 L1223.0,823.4 L1225.0,823.3 L1227.0,823.3 L1229.0,823.2 L1231.0,823.2 L1233.0,823.1 L1235.0,823.0 L1237.0,823.0 L1239.0,822.9 L1241.0,822.9 L1243.0,822.8 L1245.0,822.7 L1247.0,822.7 L1249.0,822.6 L1251.0,822.5 L1253.0,822.5 L1255.0,822.4 L1257.0,822.3 L1259.0,822.3 L1261.0,822.2 L1263.0,822.1 L1265.0,822.1 L1267.0,822.0 L1269.0,821.9 L1271.0,821.8 L1273.0,821.8 L1275.0,821.7 L1277.0,821.6 L1279.0,821.6 L1281.0,821.5 L1283.0,821.4 L1285.0,821.3 L1287.0,821.3 L1289.0,821.2 L1291.0,821.1 L1293.0,821.1 L1295.0,821.0 L1297.0,820.9 L1299.0,820.9 L1301.0,820.8 L1303.0,820.7 L1305.0,820.7 L1307.0,820.6 L1309.0,820.6 L1311.0,820.5 L1313.0,820.5 L1315.0,820.4 L1317.0,820.3 L1319.0,820.3 L1321.0,820.3 L1323.0,820.2 L1325.0,820.2 L1327.0,820.1 L1329.0,820.1 L1331.0,820.1 L1333.0,820.0 L1335.0,820.0 L1337.0,820.0 L1339.0,819.9 L1341.0,819.9 L1343.0,819.9 L1345.0,819.9 L1347.0,819.9 L1349.0,819.9 L1351.0,819.9 L1353.0,819.8 L1355.0,819.8 L1357.0,819.8 L1359.0,819.8 L1361.0,819.8 L1363.0,819.8 L1365.0,819.8 L1367.0,819.8 L1369.0,819.8 L1371.0,819.8 L1373.0,819.8 L1375.0,819.8 L1377.0,819.8 L1379.0,819.8 L1381.0,819.8 L1383.0,819.8 L1385.0,819.8 L1387.0,819.8 L1389.0,819.8 L1391.0,819.8 L1393.0,819.8 L1395.0,819.8 L1397.0,819.8 L1399.0,819.8 L1401.0,819.7 L1403.0,819.7 L1405.0,819.7 L1407.0,819.7 L1409.0,819.7 L1411.0,819.7 L1413.0,819.7 L1415.0,819.7 L1417.0,819.7 L1419.0,819.7 L1421.0,819.7 L1423.0,819.7 L1425.0,819.7 L1427.0,819.7 L1429.0,819.7 L1431.0,819.7 L1433.0,819.7 L1435.0,819.7 L1437.0,819.7 L1439.0,819.7 L1441.0,819.7 L1443.0,819.7 L1445.0,819.7 L1447.0,819.7 L1449.0,819.7 L1451.0,819.7 L1453.0,819.7 L1455.0,819.7 L1457.0,819.7 L1459.0,819.7 L1461.0,819.7 L1463.0,819.7 L1465.0,819.7 L1467.0,819.7 L1469.0,819.7 L1471.0,819.7 L1473.0,819.7 L1475.0,819.7 L1477.0,819.7 L1479.0,819.7 L1481.0,819.7 L1483.0,819.7 L1485.0,819.7 L1487.0,819.6 L1489.0,819.6 L1491.0,819.6 L1493.0,819.6 L1495.0,819.6 L1497.0,819.6 L1499.0,819.6 L1501.0,819.6 L1503.0,819.6 L1505.0,819.6 L1507.0,819.6 L1509.0,819.6 L1511.0,819.6 L1513.0,819.6 L1515.0,819.6 L1517.0,819.6 L1519.0,819.6 L1521.0,819.6 L1523.0,819.6 L1525.0,819.6 L1527.0,819.6 L1529.0,819.6 L1531.0,819.6 L1533.0,819.6 L1535.0,819.6 L1537.0,819.6 L1539.0,819.6 L1541.0,819.6 L1543.0,819.6 L1545.0,819.6 L1547.0,819.6 L1549.0,819.6 L1551.0,819.6 L1553.0,819.6 L1555.0,819.6 L1557.0,819.6 L1559.0,819.6 L1561.0,819.6 L1563.0,819.6 L1565.0,819.6 L1567.0,819.6 L1569.0,819.6 L1571.0,819.6 L1573.0,819.6 L1575.0,819.6 L1577.0,819.6 L1579.0,819.6 L1581.0,819.6 L1583.0,819.6 L1585.0,819.6 L1587.0,819.6 L1589.0,819.6 L1591.0,819.6 L1593.0,819.6 L1595.0,819.6 L1597.0,819.6 L1599.0,819.6 L1601.0,819.6 L1603.0,819.6 L1605.0,819.6 L1607.0,819.6 L1609.0,819.6 L1611.0,819.5 L1613.0,819.5 L1615.0,819.5 L1617.0,819.5 L1619.0,819.5 L1621.0,819.5 L1623.0,819.5 L1625.0,819.5 L1627.0,819.5 L1629.0,819.5 L1631.0,819.5 L1633.0,819.5 L1635.0,819.5 L1637.0,819.5 L1639.0,819.5 L1641.0,819.5 L1643.0,819.5 L1645.0,819.5 L1647.0,819.5 L1649.0,819.5 L1651.0,819.5 L1653.0,819.5 L1655.0,819.5 L1657.0,819.5 L1659.0,819.5 L1661.0,819.5 L1663.0,819.5 L1665.0,819.5 L1667.0,819.5 L1669.0,819.5 L1671.0,819.5 L1673.0,819.5 L1675.0,819.5 L1677.0,819.5 L1679.0,819.5 L1681.0,819.5 L1683.0,819.5 L1685.0,819.5 L1687.0,819.5 L1689.0,819.5 L1691.0,819.5 L1693.0,819.5 L1695.0,819.5 L1697.0,819.5 L1699.0,819.5 L1701.0,819.5 L1703.0,819.5 L1705.0,819.5 L1707.0,819.5 L1709.0,819.5 L1711.0,819.5 L1713.0,819.5 L1715.0,819.5 L1717.0,819.5 L1719.0,819.5 L1721.0,819.5 L1723.0,819.5 L1725.0,819.5 L1727.0,819.5 L1729.0,819.5 L1731.0,819.5 L1733.0,819.5 L1735.0,819.5 L1737.0,819.5 L1739.0,819.5 L1741.0,819.5 L1743.0,819.5 L1745.0,819.5 L1747.0,819.4 L1749.0,819.4 L1751.0,819.4 L1753.0,819.4 L1755.0,819.4 L1757.0,819.4 L1759.0,819.4 L1761.0,819.4 L1763.0,819.4 L1765.0,819.4 L1767.0,819.4 L1769.0,819.4 L1771.0,819.4 L1773.0,819.4 L1775.0,819.4 L1777.0,819.4 L1779.0,819.4 L1781.0,819.4 L1783.0,819.4 L1785.0,819.4 L1787.0,819.4 L1789.0,819.4 L1791.0,819.4 L1793.0,819.4 L1795.0,819.4 L1797.0,819.4 L1799.0,819.4 L1801.0,819.4 L1803.0,819.4 L1805.0,819.4 L1807.0,819.4 L1809.0,819.4 L1811.0,819.4 L1813.0,819.4 L1815.0,819.4 L1817.0,819.4 L1819.0,819.4 L1821.0,819.4 L1823.0,819.4 L1825.0,819.4 L1827.0,819.4 L1829.0,819.4 L1831.0,819.4 L1833.0,819.4 L1835.0,819.4 L1837.0,819.4 L1839.0,819.4 L1841.0,819.4 L1843.0,819.4 L1845.0,819.4 L1847.0,819.4 L1849.0,819.4 L1851.0,819.4 L1853.0,819.4 L1855.0,819.4 L1857.0,819.4 L1859.0,819.4 L1861.0,819.4 L1863.0,819.4 L1865.0,819.4 L1867.0,819.4 L1869.0,819.4 L1871.0,819.4 L1873.0,819.4 L1875.0,819.4 L1877.0,819.4 L1879.0,819.4 L1881.0,819.4 L1883.0,819.4 L1885.0,819.4 L1887.0,819.4 L1889.0,819.4 L1891.0,819.4 L1893.0,819.4 L1895.0,819.4 L1897.0,819.4 L1899.0,819.4 L1901.0,819.4 L1903.0,819.4 L1905.0,819.4 L1907.0,819.4 L1909.0,819.4 L1911.0,819.4 L1913.0,819.4 L1915.0,819.4 L1917.0,819.4 L1919.0,819.4 L1921.0,819.4 L1923.0,819.3 L1925.0,819.3 L1927.0,819.3 L1929.0,819.3 L1931.0,819.3 L1933.0,819.3 L1935.0,819.3 L1937.0,819.3 L1939.0,819.3 L1941.0,819.3 L1943.0,819.3 L1945.0,819.3 L1947.0,819.3 L1949.0,819.3 L1951.0,819.3 L1953.0,819.3 L1955.0,819.3 L1957.0,819.3 L1959.0,819.3 L1961.0,819.3 L1963.0,819.3 L1965.0,819.3 L1967.0,819.3 L1969.0,819.3 L1971.0,819.3 L1973.0,819.3 L1975.0,819.3 L1977.0,819.3 L1979.0,819.3 L1981.0,819.3 L1983.0,819.3 L1985.0,819.3 L1987.0,819.3 L1989.0,819.3 L1991.0,819.3 L1993.0,819.3 L1995.0,819.3 L1997.0,819.3 L1999.0,819.3 L2001.0,819.3 L2003.0,819.3 L2005.0,819.3 L2007.0,819.3 L2009.0,819.3 L2011.0,819.3 L2013.0,819.3 L2015.0,819.3 L2017.0,819.3 L2019.0,819.3 L2021.0,819.3 L2023.0,819.3 L2025.0,819.3 L2027.0,819.3 L2029.0,819.3 L2031.0,819.3 L2033.0,819.3 L2034.0,819.3" stroke="#ffff00"/>
<path d="M211.0,1427.0 L213.0,1426.9 L215.0,1426.8 L217.0,1426.7 L219.0,1426.6 L221.0,1426.5 L223.0,1426.4 L225.0,1426.3 L227.0,1426.2 L229.0,1426.1 L231.0,1426.0 L233.0,1425.9 L235.0,1425.8 L237.0,1425.6 L239.0,1425.5 L241.0,1425.4 L243.0,1425.3 L245.0,1425.1 L247.0,1425.0 L249.0,1424.9 L251.0,1424.7 L253.0,1424.6 L255.0,1424.4 L257.0,1424.3 L259.0,1424.1 L261.0,1424.0 L263.0,1423.8 L265.0,1423.7 L267.0,1423.5 L269.0,1423.3 L271.0,1423.2 L273.0,1423.0 L275.0,1422.9 L277.0,1422.7 L279.0,1422.5 L281.0,1422.3 L283.0,1422.2 L285.0,1422.0 L287.0,1421.8 L289.0,1421.6 L291.0,1421.5 L293.0,1421.3 L295.0,1421.1 L297.0,1420.9 L299.0,1420.7 L301.0,1420.5 L303.0,1420.3 L305.0,1420.1 L307.0,1420.0 L309.0,1419.8 L311.0,1419.6 L313.0,1419.4 L315.0,1419.2 L317.0,1419.0 L319.0,1418.8 L321.0,1418.6 L323.0,1418.4 L325.0,1418.2 L327.0,1418.0 L329.0,1417.8 L331.0,1417.5 L333.0,1417.3 L335.0,1417.1 L337.0,1416.9 L339.0,1416.7 L341.0,1416.5 L343.0,1416.2 L345.0,1416.0 L347.0,1415.8 L349.0,1415.6 L351.0,1415.3 L353.0,1415.1 L355.0,1414.8 L357.0,1414.6 L359.0,1414.4 L361.0,1414.1 L363.0,1413.9 L365.0,1413.6 L367.0,1413.3 L369.0,1413.1 L371.0,1412.8 L373.0,1412.5 L375.0,1412.3 L377.0,1412.0 L379.0,1411.7 L381.0,1411.4 L383.0,1411.2 L385.0,1410.9 L387.0,1410.6 L389.0,1410.3 L391.0,1410.0 L393.0,1409.7 L395.0,1409.3 L397.0,1409.0 L399.0,1408.7 L401.0,1408.4 L403.0,1408.1 L405.0,1407.7 L407.0,1407.4 L409.0,1407.1 L411.0,1406.7 L413.0,1406.4 L415.0,1406.0 L417.0,1405.6 L419.0,1405.3 L421.0,1404.9 L423.0,1404.5 L425.0,1404.2 L427.0,1403.8 L429.0,1403.4 L431.0,1403.0 L433.0,1402.6 L435.0,1402.2 L437.0,1401.8 L439.0,1401.4 L441.0,1400.9 L443.0,1400.5 L445.0,1400.0 L447.0,1399.5 L449.0,1399.0 L451.0,1398.5 L453.0,1397.9 L455.0,1397.3 L457.0,1396.7 L459.0,1396.1 L461.0,1395.5 L463.0,1394.9 L465.0,1394.2 L467.0,1393.6 L469.0,1392.9 L471.0,1392.2 L473.0,1391.5 L475.0,1390.8 L477.0,1390.1 L479.0,1389.4 L481.0,1388.7 L483.0,1388.0 L485.0,1387.3 L487.0,1386.6 L489.0,1385.9 L491.0,1385.2 L493.0,1384.4 L495.0,1383.7 L497.0,1382.9 L499.0,1382.2 L501.0,1381.4 L503.0,1380.6 L505.0,1379.8 L507.0,1379.0 L509.0,1378.1 L511.0,1377.3 L513.0,1376.4 L515.0,1375.5 L517.0,1374.6 L519.0,1373.7 L521.0,1372.8 L523.0,1371.9 L525.0,1370.9 L527.0,1369.9 L529.0,1368.9 L531.0,1367.9 L533.0,1366.9 L535.0,1365.8 L537.0,1364.7 L539.0,1363.7 L541.0,1362.5 L543.0,1361.4 L545.0,1360.2 L547.0,1359.0 L549.0,1357.8 L551.0,1356.6 L553.0,1355.3 L555.0,1354.0 L557.0,1352.6 L559.0,1351.2 L561.0,1349.8 L563.0,1348.4 L565.0,1346.9 L567.0,1345.3 L569.0,1343.7 L571.0,1342.0 L573.0,1340.3 L575.0,1338.5 L577.0,1336.7 L579.0,1334.8 L581.0,1332.9 L583.0,1330.9 L585.0,1328.9 L587.0,1326.8 L589.0,1324.6 L591.0,1322.3 L593.0,1319.9 L595.0,1317.5 L597.0,1314.9 L599.0,1312.3 L601.0,1309.6 L603.0,1306.8 L605.0,1303.9 L607.0,1301.0 L609.0,1298.0 L611.0,1295.0 L613.0,1291.9 L615.0,1288.7 L617.0,1285.5 L619.0,1282.0 L621.0,1278.5 L623.0,1274.8 L625.0,1271.0 L627.0,1267.2 L629.0,1263.3 L631.0,1259.3 L633.0,1255.3 L635.0,1251.3 L637.0,1247.2 L639.0,1243.0 L641.0,1238.8 L643.0,1234.5 L645.0,1230.0 L647.0,1225.5 L649.0,1220.9 L651.0,1216.2 L653.0,1211.3 L655.0,1206.1 L657.0,1200.7 L659.0,1195.2 L661.0,1189.5 L663.0,1183.9 L665.0,1178.2 L667.0,1172.7 L669.0,1167.3 L671.0,1162.0 L673.0,1156.8 L675.0,1151.6 L677.0,1146.5 L679.0,1141.3 L681.0,1136.1 L683.0,1131.0 L685.0,1125.9 L687.0,1120.9 L689.0,1115.9 L691.0,1111.0 L693.0,1106.2 L695.0,1101.4 L697.0,1096.8 L699.0,1092.2 L701.0,1087.7 L703.0,1083.4 L705.0,1079.1 L707.0,1074.9 L709.0,1070.7 L711.0,1066.6 L713.0,1062.5 L715.0,1058.4 L717.0,1054.4 L719.0,1050.5 L721.0,1046.6 L723.0,1042.8 L725.0,1039.0 L727.0,1035.3 L729.0,1031.7 L731.0,1028.2 L733.0,1024.7 L735.0,1021.2 L737.0,1017.9 L739.0,1014.6 L741.0,1011.5 L743.0,1008.4 L745.0,1005.3 L747.0,1002.3 L749.0,999.4 L751.0,996.5 L753.0,993.7 L755.0,990.9 L757.0,988.1 L759.0,985.4 L761.0,982.8 L763.0,980.2 L765.0,977.6 L767.0,975.1 L769.0,972.6 L771.0,970.1 L773.0,967.7 L775.0,965.3 L777.0,963.0 L779.0,960.6 L781.0,958.4 L783.0,956.1 L785.0,953.9 L787.0,951.7 L789.0,949.5 L791.0,947.4 L793.0,945.4 L795.0,943.4 L797.0,941.4 L799.0,939.5 L801.0,937.6 L803.0,935.7 L805.0,933.9 L807.0,932.1 L809.0,930.3 L811.0,928.5 L813.0,926.7 L815.0,924.9 L817.0,923.2 L819.0,921.5 L821.0,919.8 L823.0,918.1 L825.0,916.4 L827.0,914.8 L829.0,913.3 L831.0,911.7 L833.0,910.2 L835.0,908.8 L837.0,907.4 L839.0,906.0 L841.0,904.7 L843.0,903.4 L845.0,902.2 L847.0,900.9 L849.0,899.7 L851.0,898.5 L853.0,897.3 L855.0,896.2 L857.0,895.0 L859.0,893.9 L861.0,892.8 L863.0,891.7 L865.0,890.6 L867.0,889.5 L869.0,888.5 L871.0,887.5 L873.0,886.5 L875.0,885.5 L877.0,884.5 L879.0,883.5 L881.0,882.6 L883.0,881.6 L885.0,880.7 L887.0,879.8 L889.0,878.9 L891.0,878.1 L893.0,877.2 L895.0,876.3 L897.0,875.5 L899.0,874.7 L901.0,873.9 L903.0,873.0 L905.0,872.2 L907.0,871.4 L909.0,870.7 L911.0,869.9 L913.0,869.1 L915.0,868.4 L917.0,867.6 L919.0,866.9 L921.0,866.2 L923.0,865.4 L925.0,864.7 L927.0,864.0 L929.0,863.3 L931.0,862.6 L933.0,862.0 L935.0,861.3 L937.0,860.6 L939.0,860.0 L941.0,859.4 L943.0,858.7 L945.0,858.1 L947.0,857.5 L949.0,856.9 L951.0,856.3 L953.0,855.7 L955.0,855.1 L957.0,854.5 L959.0,854.0 L961.0,853.4 L963.0,852.9 L965.0,852.3 L967.0,851.8 L969.0,851.3 L971.0,850.7 L973.0,850.2 L975.0,849.7 L977.0,849.2 L979.0,848.7 L981.0,848.2 L983.0,847.8 L985.0,847.3 L987.0,846.8 L989.0,846.4 L991.0,845.9 L993.0,845.5 L995.0,845.0 L997.0,844.6 L999.0,844.2 L1001.0,843.8 L1003.0,843.3 L1005.0,842.9 L1007.0,842.5 L1009.0,842.1 L1011.0,841.7 L1013.0,841.3 L1015.0,840.9 L1017.0,840.5 L1019.0,840.2 L1021.0,839.8 L1023.0,839.4 L1025.0,839.0 L1027.0,838.7 L1029.0,838.3 L1031.0,838.0 L1033.0,837.6 L1035.0,837.3 L1037.0,836.9 L1039.0,836.6 L1041.0,836.2 L1043.0,835.9 L1045.0,835.5 L1047.0,835.2 L1049.0,834.9 L1051.0,834.6 L1053.0,834.2 L1055.0,833.9 L1057.0,833.6 L1059.0,833.3 L1061.0,833.0 L1063.0,832.6 L1065.0,832.3 L1067.0,832.0 L1069.0,831.7 L1071.0,831.4 L1073.0,831.1 L1075.0,830.8 L1077.0,830.5 L1079.0,830.2 L1081.0,829.9 L1083.0,829.6 L1085.0,829.3 L1087.0,829.0 L1089.0,828.7 L1091.0,828.4 L1093.0,828.1 L1095.0,827.8 L1097.0,827.6 L1099.0,827.3 L1101.0,827.0 L1103.0,826.7 L1105.0,826.4 L1107.0,826.2 L1109.0,825.9 L1111.0,825.6 L1113.0,825.4 L1115.0,825.1 L1117.0,824.9 L1119.0,824.6 L1121.0,824.3 L1122.5,824.2 L1123.0,824.1 L1125.0,824.0 L1127.0,823.9 L1129.0,823.8 L1131.0,823.6 L1133.0,823.5 L1135.0,823.4 L1137.0,823.3 L1139.0,823.2 L1141.0,823.1 L1143.0,822.9 L1145.0,822.8 L1147.0,822.7 L1149.0,822.6 L1151.0,822.5 L1153.0,822.4 L1155.0,822.3 L1157.0,822.2 L1159.0,822.1 L1161.0,822.0 L1163.0,821.9 L1165.0,821.7 L1167.0,821.6 L1169.0,821.5 L1171.0,821.4 L1173.0,821.3 L1175.0,821.2 L1177.0,821.1 L1179.0,821.0 L1181.0,820.9 L1183.0,820.8 L1185.0,820.7 L1187.0,820.7 L1189.0,820.6 L1191.0,820.5 L1193.0,820.4 L1195.0,820.3 L1197.0,820.2 L1199.0,820.1 L1201.0,820.0 L1203.0,819.9 L1205.0,819.8 L1207.0,819.7 L1209.0,819.7 L1211.0,819.6 L1213.0,819.5 L1215.0,819.4 L1217.0,819.3 L1219.0,819.2 L1221.0,819.2 L1223.0,819.1 L1225.0,819.0 L1227.0,818.9 L1229.0,818.8 L1231.0,818.8 L1233.0,818.7 L1235.0,818.6 L1237.0,818.6 L1239.0,818.5 L1241.0,818.4 L1243.0,818.4 L1245.0,818.3 L1247.0,818.2 L1249.0,818.2 L1251.0,818.1 L1253.0,818.0 L1255.0,817.9 L1257.0,817.9 L1259.0,817.8 L1261.0,817.7 L1263.0,817.7 L1265.0,817.6 L1267.0,817.5 L1269.0,817.5 L1271.0,817.4 L1273.0,817.3 L1275.0,817.3 L1277.0,817.2 L1279.0,817.1 L1281.0,817.1 L1283.0,817.0 L1285.0,816.9 L1287.0,816.9 L1289.0,816.8 L1291.0,816.7 L1293.0,816.7 L1295.0,816.6 L1297.0,816.6 L1299.0,816.5 L1301.0,816.4 L1303.0,816.4 L1305.0,816.3 L1307.0,816.3 L1309.0,816.2 L1311.0,816.2 L1313.0,816.1 L1315.0,816.1 L1317.0,816.0 L1319.0,816.0 L1321.0,815.9 L1323.0,815.9 L1325.0,815.9 L1327.0,815.8 L1329.0,815.8 L1331.0,815.7 L1333.0,815.7 L1335.0,815.7 L1337.0,815.6 L1339.0,815.6 L1341.0,815.6 L1343.0,815.6 L1345.0,815.5 L1347.0,815.5 L1349.0,815.5 L1351.0,815.5 L1353.0,815.5 L1355.0,815.5 L1357.0,815.4 L1359.0,815.4 L1361.0,815.4 L1363.0,815.4 L1365.0,815.4 L1367.0,815.4 L1369.0,815.4 L1371.0,815.3 L1373.0,815.3 L1375.0,815.3 L1377.0,815.3 L1379.0,815.3 L1381.0,815.3 L1383.0,815.3 L1385.0,815.3 L1387.0,815.2 L1389.0,815.2 L1391.0,815.2 L1393.0,815.2 L1395.0,815.2 L1397.0,815.2 L1399.0,815.2 L1401.0,815.2 L1403.0,815.1 L1405.0,815.1 L1407.0,815.1 L1409.0,815.1 L1411.0,815.1 L1413.0,815.1 L1415.0,815.1 L1417.0,815.1 L1419.0,815.1 L1421.0,815.0 L1423.0,815.0 L1425.0,815.0 L1427.0,815.0 L1429.0,815.0 L1431.0,815.0 L1433.0,815.0 L1435.0,815.0 L1437.0,815.0 L1439.0,815.0 L1441.0,814.9 L1443.0,814.9 L1445.0,814.9 L1447.0,814.9 L1449.0,814.9 L1451.0,814.9 L1453.0,814.9 L1455.0,814.9 L1457.0,814.9 L1459.0,814.9 L1461.0,814.9 L1463.0,814.8 L1465.0,814.8 L1467.0,814.8 L1469.0,814.8 L1471.0,814.8 L1473.0,814.8 L1475.0,814.8 L1477.0,814.8 L1479.0,814.8 L1481.0,814.8 L1483.0,814.8 L1485.0,814.8 L1487.0,814.8 L1489.0,814.8 L1491.0,814.8 L1493.0,814.7 L1495.0,814.7 L1497.0,814.7 L1499.0,814.7 L1501.0,814.7 L1503.0,814.7 L1505.0,814.7 L1507.0,814.7 L1509.0,814.7 L1511.0,814.7 L1513.0,814.7 L1515.0,814.7 L1517.0,814.7 L1519.0,814.7 L1521.0,814.7 L1523.0,814.7 L1525.0,814.7 L1527.0,814.7 L1529.0,814.7 L1531.0,814.7 L1533.0,814.7 L1535.0,814.6 L1537.0,814.6 L1539.0,814.6 L1541.0,814.6 L1543.0,814.6 L1545.0,814.6 L1547.0,814.6 L1549.0,814.6 L1551.0,814.6 L1553.0,814.6 L1555.0,814.6 L1557.0,814.6 L1559.0,814.6 L1561.0,814.6 L1563.0,814.6 L1565.0,814.6 L1567.0,814.6 L1569.0,814.6 L1571.0,814.6 L1573.0,814.6 L1575.0,814.6 L1577.0,814.6 L1579.0,814.6 L1581.0,814.6 L1583.0,814.6 L1585.0,814.6 L1587.0,814.6 L1589.0,814.6 L1591.0,814.6 L1593.0,814.6 L1595.0,814.6 L1597.0,814.6 L1599.0,814.6 L1601.0,814.6 L1603.0,814.6 L1605.0,814.6 L1607.0,814.6 L1609.0,814.6 L1611.0,814.6 L1613.0,814.6 L1615.0,814.6 L1617.0,814.6 L1619.0,814.6 L1621.0,814.6 L1623.0,814.6 L1625.0,814.6 L1627.0,814.6 L1629.0,814.6 L1631.0,814.6 L1633.0,814.6 L1635.0,814.6 L1637.0,814.6 L1639.0,814.6 L1641.0,814.6 L1643.0,814.6 L1645.0,814.6 L1647.0,814.6 L1649.0,814.6 L1651.0,814.6 L1653.0,814.6 L1655.0,814.6 L1657.0,814.6 L1659.0,814.6 L1661.0,814.6 L1663.0,814.6 L1665.0,814.6 L1667.0,814.6 L1669.0,814.6 L1671.0,814.6 L1673.0,814.6 L1675.0,814.6 L1677.0,814.6 L1679.0,814.6 L1681.0,814.6 L1683.0,814.6 L1685.0,814.6 L1687.0,814.6 L1689.0,814.6 L1691.0,814.6 L1693.0,814.6 L1695.0,814.6 L1697.0,814.6 L1699.0,814.6 L1701.0,814.6 L1703.0,814.7 L1705.0,814.7 L1707.0,814.7 L1709.0,814.7 L1711.0,814.7 L1713.0,814.7 L1715.0,814.7 L1717.0,814.7 L1719.0,814.7 L1721.0,814.7 L1723.0,814.7 L1725.0,814.7 L1727.0,814.7 L1729.0,814.7 L1731.0,814.7 L1733.0,814.7 L1735.0,814.7 L1737.0,814.7 L1739.0,814.7 L1741.0,814.7 L1743.0,814.7 L1745.0,814.7 L1747.0,814.7 L1749.0,814.7 L1751.0,814.7 L1753.0,814.7 L1755.0,814.7 L1757.0,814.7 L1759.0,814.7 L1761.0,814.7 L1763.0,814.7 L1765.0,814.7 L1767.0,814.7 L1769.0,814.7 L1771.0,814.7 L1773.0,814.7 L1775.0,814.7 L1777.0,814.7 L1779.0,814.7 L1781.0,814.7 L1783.0,814.7 L1785.0,814.7 L1787.0,814.7 L1789.0,814.7 L1791.0,814.7 L1793.0,814.7 L1795.0,814.7 L1797.0,814.7 L1799.0,814.7 L1801.0,814.7 L1803.0,814.7 L1805.0,814.7 L1807.0,814.7 L1809.0,814.7 L1811.0,814.7 L1813.0,814.7 L1815.0,814.7 L1817.0,814.7 L1819.0,814.7 L1821.0,814.7 L1823.0,814.7 L1825.0,814.7 L1827.0,814.7 L1829.0,814.7 L1831.0,814.8 L1833.0,814.8 L1835.0,814.8 L1837.0,814.8 L1839.0,814.8 L1841.0,814.8 L1843.0,814.8 L1845.0,814.8 L1847.0,814.8 L1849.0,814.8 L1851.0,814.8 L1853.0,814.8 L1855.0,814.8 L1857.0,814.8 L1859.0,814.8 L1861.0,814.8 L1863.0,814.8 L1865.0,814.8 L1867.0,814.8 L1869.0,814.8 L1871.0,814.8 L1873.0,814.8 L1875.0,814.8 L1877.0,814.8 L1879.0,814.8 L1881.0,814.9 L1883.0,814.9 L1885.0,814.9 L1887.0,814.9 L1889.0,814.9 L1891.0,814.9 L1893.0,814.9 L1895.0,814.9 L1897.0,814.9 L1899.0,814.9 L1901.0,814.9 L1903.0,814.9 L1905.0,814.9 L1907.0,814.9 L1909.0,814.9 L1911.0,814.9 L1913.0,814.9 L1915.0,814.9 L1917.0,815.0 L1919.0,815.0 L1921.0,815.0 L1923.0,815.0 L1925.0,815.0 L1927.0,815.0 L1929.0,815.0 L1931.0,815.0 L1933.0,815.0 L1935.0,815.0 L1937.0,815.0 L1939.0,815.0 L1941.0,815.0 L1943.0,815.0 L1945.0,815.0 L1947.0,815.1 L1949.0,815.1 L1951.0,815.1 L1953.0,815.1 L1955.0,815.1 L1957.0,815.1 L1959.0,815.1 L1961.0,815.1 L1963.0,815.1 L1965.0,815.1 L1967.0,815.1 L1969.0,815.1 L1971.0,815.1 L1973.0,815.1 L1975.0,815.2 L1977.0,815.2 L1979.0,815.2 L1981.0,815.2 L1983.0,815.2 L1985.0,815.2 L1987.0,815.2 L1989.0,815.2 L1991.0,815.2 L1993.0,815.2 L1995.0,815.2 L1997.0,815.2 L1999.0,815.2 L2001.0,815.3 L2003.0,815.3 L2005.0,815.3 L2007.0,815.3 L2009.0,815.3 L2011.0,815.3 L2013.0,815.3 L2015.0,815.3 L2017.0,815.3 L2019.0,815.3 L2021.0,815.3 L2023.0,815.3 L2025.0,815.3 L2027.0,815.4 L2029.0,815.4 L2031.0,815.4 L2033.0,815.4 L2034.0,815.4" stroke="#ff00ff"/>
<path d="M211.0,1427.0 L213.0,1426.9 L215.0,1426.8 L217.0,1426.7 L219.0,1426.6 L221.0,1426.5 L223.0,1426.4 L225.0,1426.3 L227.0,1426.2 L229.0,1426.1 L231.0,1426.0 L233.0,1425.9 L235.0,1425.8 L237.0,1425.6 L239.0,1425.5 L241.0,1425.4 L243.0,1425.3 L245.0,1425.1 L247.0,1425.0 L249.0,1424.9 L251.0,1424.7 L253.0,1424.6 L255.0,1424.4 L257.0,1424.3 L259.0,1424.1 L261.0,1424.0 L263.0,1423.8 L265.0,1423.7 L267.0,1423.5 L269.0,1423.3 L271.0,1423.2 L273.0,1423.0 L275.0,1422.9 L277.0,1422.7 L279.0,1422.5 L281.0,1422.3 L283.0,1422.2 L285.0,1422.0 L287.0,1421.8 L289.0,1421.6 L291.0,1421.5 L293.0,1421.3 L295.0,1421.1 L297.0,1420.9 L299.0,1420.7 L301.0,1420.5 L303.0,1420.3 L305.0,1420.1 L307.0,1420.0 L309.0,1419.8 L311.0,1419.6 L313.0,1419.4 L315.0,1419.2 L317.0,1419.0 L319.0,1418.8 L321.0,1418.6 L323.0,1418.4 L325.0,1418.2 L327.0,1418.0 L329.0,1417.8 L331.0,1417.5 L333.0,1417.3 L335.0,1417.1 L337.0,1416.9 L339.0,1416.7 L341.0,1416.5 L343.0,1416.2 L345.0,1416.0 L347.0,1415.8 L349.0,1415.6 L351.0,1415.3 L353.0,1415.1 L355.0,1414.9 L357.0,1414.6 L359.0,1414.4 L361.0,1414.1 L363.0,1413.9 L365.0,1413.6 L367.0,1413.3 L369.0,1413.1 L371.0,1412.8 L373.0,1412.6 L375.0,1412.3 L377.0,1412.0 L379.0,1411.7 L381.0,1411.4 L383.0,1411.2 L385.0,1410.9 L387.0,1410.6 L389.0,1410.3 L391.0,1410.0 L393.0,1409.7 L395.0,1409.3 L397.0,1409.0 L399.0,1408.7 L401.0,1408.4 L403.0,1408.1 L405.0,1407.7 L407.0,1407.4 L409.0,1407.0 L411.0,1406.7 L413.0,1406.3 L415.0,1406.0 L417.0,1405.6 L419.0,1405.3 L421.0,1404.9 L423.0,1404.5 L425.0,1404.1 L427.0,1403.8 L429.0,1403.4 L431.0,1403.0 L433.0,1402.6 L435.0,1402.2 L437.0,1401.7 L439.0,1401.3 L441.0,1400.9 L443.0,1400.4 L445.0,1399.9 L447.0,1399.4 L449.0,1398.9 L451.0,1398.3 L453.0,1397.8 L455.0,1397.2 L457.0,1396.6 L459.0,1396.0 L461.0,1395.3 L463.0,1394.7 L465.0,1394.0 L467.0,1393.4 L469.0,1392.7 L471.0,1392.0 L473.0,1391.3 L475.0,1390.6 L477.0,1389.9 L479.0,1389.2 L481.0,1388.5 L483.0,1387.8 L485.0,1387.1 L487.0,1386.4 L489.0,1385.7 L491.0,1384.9 L493.0,1384.2 L495.0,1383.5 L497.0,1382.7 L499.0,1382.0 L501.0,1381.2 L503.0,1380.4 L505.0,1379.6 L507.0,1378.8 L509.0,1377.9 L511.0,1377.1 L513.0,1376.2 L515.0,1375.4 L517.0,1374.5 L519.0,1373.6 L521.0,1372.6 L523.0,1371.7 L525.0,1370.7 L527.0,1369.7 L529.0,1368.7 L531.0,1367.7 L533.0,1366.7 L535.0,1365.6 L537.0,1364.5 L539.0,1363.4 L541.0,1362.3 L543.0,1361.1 L545.0,1359.9 L547.0,1358.7 L549.0,1357.5 L551.0,1356.2 L553.0,1354.9 L555.0,1353.6 L557.0,1352.2 L559.0,1350.9 L561.0,1349.4 L563.0,1348.0 L565.0,1346.4 L567.0,1344.9 L569.0,1343.3 L571.0,1341.6 L573.0,1339.9 L575.0,1338.1 L577.0,1336.3 L579.0,1334.5 L581.0,1332.5 L583.0,1330.6 L585.0,1328.5 L587.0,1326.4 L589.0,1324.2 L591.0,1321.9 L593.0,1319.5 L595.0,1317.0 L597.0,1314.4 L599.0,1311.8 L601.0,1309.1 L603.0,1306.3 L605.0,1303.4 L607.0,1300.5 L609.0,1297.6 L611.0,1294.6 L613.0,1291.5 L615.0,1288.3 L617.0,1285.0 L619.0,1281.5 L621.0,1277.9 L623.0,1274.3 L625.0,1270.5 L627.0,1266.8 L629.0,1262.9 L631.0,1259.0 L633.0,1255.1 L635.0,1251.1 L637.0,1247.0 L639.0,1242.8 L641.0,1238.6 L643.0,1234.2 L645.0,1229.8 L647.0,1225.3 L649.0,1220.7 L651.0,1215.9 L653.0,1211.0 L655.0,1205.9 L657.0,1200.7 L659.0,1195.4 L661.0,1190.2 L663.0,1185.0 L665.0,1179.9 L667.0,1174.9 L669.0,1169.9 L671.0,1165.1 L673.0,1160.3 L675.0,1155.5 L677.0,1150.7 L679.0,1145.8 L681.0,1140.9 L683.0,1136.0 L685.0,1131.0 L687.0,1126.1 L689.0,1121.1 L691.0,1116.2 L693.0,1111.3 L695.0,1106.5 L697.0,1101.8 L699.0,1097.2 L701.0,1092.6 L703.0,1088.2 L705.0,1084.0 L707.0,1079.9 L709.0,1075.8 L711.0,1071.8 L713.0,1067.8 L715.0,1063.9 L717.0,1060.1 L719.0,1056.2 L721.0,1052.5 L723.0,1048.8 L725.0,1045.1 L727.0,1041.5 L729.0,1038.0 L731.0,1034.5 L733.0,1031.1 L735.0,1027.7 L737.0,1024.3 L739.0,1021.0 L741.0,1017.8 L743.0,1014.6 L745.0,1011.4 L747.0,1008.3 L749.0,1005.2 L751.0,1002.2 L753.0,999.2 L755.0,996.2 L757.0,993.3 L759.0,990.4 L761.0,987.5 L763.0,984.7 L765.0,981.9 L767.0,979.2 L769.0,976.5 L771.0,973.8 L773.0,971.2 L775.0,968.6 L777.0,966.1 L779.0,963.6 L781.0,961.2 L783.0,958.8 L785.0,956.4 L787.0,954.1 L789.0,951.9 L791.0,949.6 L793.0,947.4 L795.0,945.3 L797.0,943.1 L799.0,941.0 L801.0,939.0 L803.0,936.9 L805.0,935.0 L807.0,933.0 L809.0,931.1 L811.0,929.1 L813.0,927.3 L815.0,925.4 L817.0,923.6 L819.0,921.8 L821.0,920.1 L823.0,918.4 L825.0,916.7 L827.0,915.0 L829.0,913.3 L831.0,911.7 L833.0,910.1 L835.0,908.5 L837.0,906.9 L839.0,905.3 L841.0,903.7 L843.0,902.2 L845.0,900.6 L847.0,899.1 L849.0,897.6 L851.0,896.1 L853.0,894.6 L855.0,893.2 L857.0,891.7 L859.0,890.3 L861.0,888.9 L863.0,887.4 L865.0,886.0 L867.0,884.7 L869.0,883.3 L871.0,881.9 L873.0,880.6 L875.0,879.2 L877.0,877.9 L879.0,876.6 L881.0,875.3 L883.0,874.0 L885.0,872.7 L887.0,871.4 L889.0,870.1 L891.0,868.8 L893.0,867.6 L895.0,866.3 L897.0,865.1 L899.0,863.9 L901.0,862.7 L903.0,861.5 L905.0,860.3 L907.0,859.1 L909.0,857.9 L911.0,856.7 L913.0,855.6 L915.0,854.4 L917.0,853.3 L919.0,852.2 L921.0,851.1 L923.0,850.0 L925.0,848.8 L927.0,847.8 L929.0,846.7 L931.0,845.6 L933.0,844.5 L935.0,843.4 L937.0,842.4 L939.0,841.3 L941.0,840.2 L943.0,839.2 L945.0,838.2 L947.0,837.1 L949.0,836.1 L951.0,835.0 L953.0,834.0 L955.0,833.0 L957.0,831.9 L959.0,830.9 L961.0,829.9 L963.0,828.9 L965.0,827.9 L967.0,826.8 L969.0,825.8 L971.0,824.8 L973.0,823.8 L975.0,822.8 L977.0,821.8 L979.0,820.7 L981.0,819.7 L983.0,818.7 L985.0,817.7 L987.0,816.6 L989.0,815.6 L991.0,814.6 L993.0,813.6 L995.0,812.6 L997.0,811.6 L999.0,810.6 L1001.0,809.7 L1003.0,808.8 L1005.0,807.8 L1007.0,807.0 L1009.0,806.1 L1011.0,805.3 L1013.0,804.4 L1015.0,803.6 L1017.0,802.8 L1019.0,802.0 L1021.0,801.2 L1023.0,800.4 L1025.0,799.7 L1027.0,798.9 L1029.0,798.1 L1031.0,797.4 L1033.0,796.7 L1035.0,795.9 L1037.0,795.2 L1039.0,794.5 L1041.0,793.8 L1043.0,793.1 L1045.0,792.4 L1047.0,791.7 L1049.0,791.0 L1051.0,790.3 L1053.0,789.6 L1055.0,788.9 L1057.0,788.3 L1059.0,787.6 L1061.0,786.9 L1063.0,786.2 L1065.0,785.6 L1067.0,784.9 L1069.0,784.2 L1071.0,783.6 L1073.0,782.9 L1075.0,782.2 L1077.0,781.6 L1079.0,780.9 L1081.0,780.3 L1083.0,779.6 L1085.0,779.0 L1087.0,778.3 L1089.0,777.7 L1091.0,777.1 L1093.0,776.4 L1095.0,775.8 L1097.0,775.2 L1099.0,774.6 L1101.0,774.0 L1103.0,773.4 L1105.0,772.8 L1107.0,772.1 L1109.0,771.6 L1111.0,771.0 L1113.0,770.4 L1115.0,769.8 L1117.0,769.2 L1119.0,768.6 L1121.0,768.0 L1122.5,767.6 L1123.0,767.5 L1125.0,767.1 L1127.0,766.7 L1129.0,766.2 L1131.0,765.8 L1133.0,765.4 L1135.0,765.0 L1137.0,764.6 L1139.0,764.2 L1141.0,763.7 L1143.0,763.3 L1145.0,762.9 L1147.0,762.5 L1149.0,762.1 L1151.0,761.7 L1153.0,761.3 L1155.0,760.9 L1157.0,760.5 L1159.0,760.1 L1161.0,759.7 L1163.0,759.3 L1165.0,759.0 L1167.0,758.6 L1169.0,758.2 L1171.0,757.8 L1173.0,757.4 L1175.0,757.0 L1177.0,756.7 L1179.0,756.3 L1181.0,755.9 L1183.0,755.5 L1185.0,755.2 L1187.0,754.8 L1189.0,754.4 L1191.0,754.1 L1193.0,753.7 L1195.0,753.3 L1197.0,753.0 L1199.0,752.6 L1201.0,752.2 L1203.0,751.9 L1205.0,751.5 L1207.0,751.1 L1209.0,750.8 L1211.0,750.4 L1213.0,750.0 L1215.0,749.7 L1217.0,749.3 L1219.0,749.0 L1221.0,748.7 L1223.0,748.3 L1225.0,748.0 L1227.0,747.7 L1229.0,747.4 L1231.0,747.1 L1233.0,746.8 L1235.0,746.5 L1237.0,746.3 L1239.0,746.0 L1241.0,745.7 L1243.0,745.5 L1245.0,745.2 L1247.0,744.9 L1249.0,744.7 L1251.0,744.4 L1253.0,744.1 L1255.0,743.9 L1257.0,743.6 L1259.0,743.4 L1261.0,743.1 L1263.0,742.9 L1265.0,742.6 L1267.0,742.4 L1269.0,742.1 L1271.0,741.9 L1273.0,741.6 L1275.0,741.4 L1277.0,741.2 L1279.0,740.9 L1281.0,740.7 L1283.0,740.5 L1285.0,740.2 L1287.0,740.0 L1289.0,739.8 L1291.0,739.6 L1293.0,739.3 L1295.0,739.1 L1297.0,738.9 L1299.0,738.7 L1301.0,738.5 L1303.0,738.3 L1305.0,738.1 L1307.0,737.9 L1309.0,737.7 L1311.0,737.5 L1313.0,737.3 L1315.0,737.1 L1317.0,736.9 L1319.0,736.8 L1321.0,736.6 L1323.0,736.4 L1325.0,736.3 L1327.0,736.1 L1329.0,735.9 L1331.0,735.8 L1333.0,735.6 L1335.0,735.5 L1337.0,735.3 L1339.0,735.2 L1341.0,735.0 L1343.0,734.9 L1345.0,734.8 L1347.0,734.7 L1349.0,734.5 L1351.0,734.4 L1353.0,734.3 L1355.0,734.2 L1357.0,734.1 L1359.0,734.0 L1361.0,733.9 L1363.0,733.8 L1365.0,733.7 L1367.0,733.6 L1369.0,733.4 L1371.0,733.3 L1373.0,733.2 L1375.0,733.1 L1377.0,733.0 L1379.0,732.9 L1381.0,732.8 L1383.0,732.7 L1385.0,732.6 L1387.0,732.5 L1389.0,732.4 L1391.0,732.3 L1393.0,732.2 L1395.0,732.2 L1397.0,732.1 L1399.0,732.0 L1401.0,731.9 L1403.0,731.8 L1405.0,731.7 L1407.0,731.6 L1409.0,731.5 L1411.0,731.4 L1413.0,731.3 L1415.0,731.2 L1417.0,731.2 L1419.0,731.1 L1421.0,731.0 L1423.0,730.9 L1425.0,730.8 L1427.0,730.7 L1429.0,730.7 L1431.0,730.6 L1433.0,730.5 L1435.0,730.4 L1437.0,730.3 L1439.0,730.3 L1441.0,730.2 L1443.0,730.1 L1445.0,730.0 L1447.0,730.0 L1449.0,729.9 L1451.0,729.8 L1453.0,729.7 L1455.0,729.7 L1457.0,729.6 L1459.0,729.5 L1461.0,729.5 L1463.0,729.4 L1465.0,729.3 L1467.0,729.2 L1469.0,729.2 L1471.0,729.1 L1473.0,729.0 L1475.0,729.0 L1477.0,728.9 L1479.0,728.8 L1481.0,728.8 L1483.0,728.7 L1485.0,728.6 L1487.0,728.6 L1489.0,728.5 L1491.0,728.5 L1493.0,728.4 L1495.0,728.3 L1497.0,728.3 L1499.0,728.2 L1501.0,728.2 L1503.0,728.1 L1505.0,728.0 L1507.0,728.0 L1509.0,727.9 L1511.0,727.9 L1513.0,727.8 L1515.0,727.8 L1517.0,727.7 L1519.0,727.6 L1521.0,727.6 L1523.0,727.5 L1525.0,727.5 L1527.0,727.4 L1529.0,727.4 L1531.0,727.3 L1533.0,727.3 L1535.0,727.2 L1537.0,727.2 L1539.0,727.1 L1541.0,727.1 L1543.0,727.0 L1545.0,727.0 L1547.0,726.9 L1549.0,726.9 L1551.0,726.8 L1553.0,726.8 L1555.0,726.7 L1557.0,726.7 L1559.0,726.6 L1561.0,726.6 L1563.0,726.5 L1565.0,726.5 L1567.0,726.4 L1569.0,726.4 L1571.0,726.4 L1573.0,726.3 L1575.0,726.3 L1577.0,726.2 L1579.0,726.2 L1581.0,726.1 L1583.0,726.1 L1585.0,726.0 L1587.0,726.0 L1589.0,726.0 L1591.0,725.9 L1593.0,725.9 L1595.0,725.8 L1597.0,725.8 L1599.0,725.7 L1601.0,725.7 L1603.0,725.7 L1605.0,725.6 L1607.0,725.6 L1609.0,725.5 L1611.0,725.5 L1613.0,725.5 L1615.0,725.4 L1617.0,725.4 L1619.0,725.3 L1621.0,725.3 L1623.0,725.2 L1625.0,725.2 L1627.0,725.2 L1629.0,725.1 L1631.0,725.1 L1633.0,725.1 L1635.0,725.0 L1637.0,725.0 L1639.0,724.9 L1641.0,724.9 L1643.0,724.9 L1645.0,724.8 L1647.0,724.8 L1649.0,724.7 L1651.0,724.7 L1653.0,724.7 L1655.0,724.6 L1657.0,724.6 L1659.0,724.6 L1661.0,724.5 L1663.0,724.5 L1665.0,724.4 L1667.0,724.4 L1669.0,724.4 L1671.0,724.3 L1673.0,724.3 L1675.0,724.3 L1677.0,724.2 L1679.0,724.2 L1681.0,724.2 L1683.0,724.1 L1685.0,724.1 L1687.0,724.1 L1689.0,724.0 L1691.0,724.0 L1693.0,724.0 L1695.0,723.9 L1697.0,723.9 L1699.0,723.9 L1701.0,723.8 L1703.0,723.8 L1705.0,723.8 L1707.0,723.8 L1709.0,723.7 L1711.0,723.7 L1713.0,723.7 L1715.0,723.6 L1717.0,723.6 L1719.0,723.6 L1721.0,723.5 L1723.0,723.5 L1725.0,723.5 L1727.0,723.5 L1729.0,723.4 L1731.0,723.4 L1733.0,723.4 L1735.0,723.4 L1737.0,723.3 L1739.0,723.3 L1741.0,723.3 L1743.0,723.2 L1745.0,723.2 L1747.0,723.2 L1749.0,723.2 L1751.0,723.1 L1753.0,723.1 L1755.0,723.1 L1757.0,723.1 L1759.0,723.1 L1761.0,723.0 L1763.0,723.0 L1765.0,723.0 L1767.0,723.0 L1769.0,722.9 L1771.0,722.9 L1773.0,722.9 L1775.0,722.9 L1777.0,722.9 L1779.0,722.8 L1781.0,722.8 L1783.0,722.8 L1785.0,722.8 L1787.0,722.8 L1789.0,722.7 L1791.0,722.7 L1793.0,722.7 L1795.0,722.7 L1797.0,722.7 L1799.0,722.7 L1801.0,722.6 L1803.0,722.6 L1805.0,722.6 L1807.0,722.6 L1809.0,722.6 L1811.0,722.6 L1813.0,722.6 L1815.0,722.5 L1817.0,722.5 L1819.0,722.5 L1821.0,722.5 L1823.0,722.5 L1825.0,722.5 L1827.0,722.5 L1829.0,722.4 L1831.0,722.4 L1833.0,722.4 L1835.0,722.4 L1837.0,722.4 L1839.0,722.4 L1841.0,722.4 L1843.0,722.3 L1845.0,722.3 L1847.0,722.3 L1849.0,722.3 L1851.0,722.3 L1853.0,722.3 L1855.0,722.3 L1857.0,722.2 L1859.0,722.2 L1861.0,722.2 L1863.0,722.2 L1865.0,722.2 L1867.0,722.2 L1869.0,722.2 L1871.0,722.1 L1873.0,722.1 L1875.0,722.1 L1877.0,722.1 L1879.0,722.1 L1881.0,722.1 L1883.0,722.1 L1885.0,722.1 L1887.0,722.0 L1889.0,722.0 L1891.0,722.0 L1893.0,722.0 L1895.0,722.0 L1897.0,722.0 L1899.0,722.0 L1901.0,722.0 L1903.0,721.9 L1905.0,721.9 L1907.0,721.9 L1909.0,721.9 L1911.0,721.9 L1913.0,721.9 L1915.0,721.9 L1917.0,721.9 L1919.0,721.9 L1921.0,721.8 L1923.0,721.8 L1925.0,721.8 L1927.0,721.8 L1929.0,721.8 L1931.0,721.8 L1933.0,721.8 L1935.0,721.8 L1937.0,721.8 L1939.0,721.7 L1941.0,721.7 L1943.0,721.7 L1945.0,721.7 L1947.0,721.7 L1949.0,721.7 L1951.0,721.7 L1953.0,721.7 L1955.0,721.7 L1957.0,721.7 L1959.0,721.7 L1961.0,721.7 L1963.0,721.6 L1965.0,721.6 L1967.0,721.6 L1969.0,721.6 L1971.0,721.6 L1973.0,721.6 L1975.0,721.6 L1977.0,721.6 L1979.0,721.6 L1981.0,721.6 L1983.0,721.6 L1985.0,721.6 L1987.0,721.6 L1989.0,721.6 L1991.0,721.6 L1993.0,721.6 L1995.0,721.5 L1997.0,721.5 L1999.0,721.5 L2001.0,721.5 L2003.0,721.5 L2005.0,721.5 L2007.0,721.5 L2009.0,721.5 L2011.0,721.5 L2013.0,721.5 L2015.0,721.5 L2017.0,721.5 L2019.0,721.5 L2021.0,721.5 L2023.0,721.5 L2025.0,721.5 L2027.0,721.5 L2029.0,721.5 L2031.0,721.5 L2033.0,721.5 L2034.0,721.5" stroke="#0000ff" stroke-dasharray="31 29.4" stroke-dashoffset="-4"/>
<path d="M211.0,1427.0 L213.0,1426.9 L215.0,1426.8 L217.0,1426.7 L219.0,1426.6 L221.0,1426.5 L223.0,1426.4 L225.0,1426.3 L227.0,1426.2 L229.0,1426.1 L231.0,1426.0 L233.0,1425.9 L235.0,1425.8 L237.0,1425.6 L239.0,1425.5 L241.0,1425.4 L243.0,1425.3 L245.0,1425.1 L247.0,1425.0 L249.0,1424.9 L251.0,1424.7 L253.0,1424.6 L255.0,1424.4 L257.0,1424.3 L259.0,1424.1 L261.0,1424.0 L263.0,1423.8 L265.0,1423.7 L267.0,1423.5 L269.0,1423.3 L271.0,1423.2 L273.0,1423.0 L275.0,1422.9 L277.0,1422.7 L279.0,1422.5 L281.0,1422.3 L283.0,1422.2 L285.0,1422.0 L287.0,1421.8 L289.0,1421.6 L291.0,1421.5 L293.0,1421.3 L295.0,1421.1 L297.0,1420.9 L299.0,1420.7 L301.0,1420.5 L303.0,1420.3 L305.0,1420.1 L307.0,1420.0 L309.0,1419.8 L311.0,1419.6 L313.0,1419.4 L315.0,1419.2 L317.0,1419.0 L319.0,1418.8 L321.0,1418.6 L323.0,1418.4 L325.0,1418.2 L327.0,1418.0 L329.0,1417.8 L331.0,1417.5 L333.0,1417.3 L335.0,1417.1 L337.0,1416.9 L339.0,1416.7 L341.0,1416.5 L343.0,1416.2 L345.0,1416.0 L347.0,1415.8 L349.0,1415.6 L351.0,1415.3 L353.0,1415.1 L355.0,1414.9 L357.0,1414.6 L359.0,1414.4 L361.0,1414.1 L363.0,1413.9 L365.0,1413.6 L367.0,1413.3 L369.0,1413.1 L371.0,1412.8 L373.0,1412.6 L375.0,1412.3 L377.0,1412.0 L379.0,1411.7 L381.0,1411.4 L383.0,1411.2 L385.0,1410.9 L387.0,1410.6 L389.0,1410.3 L391.0,1410.0 L393.0,1409.7 L395.0,1409.3 L397.0,1409.0 L399.0,1408.7 L401.0,1408.4 L403.0,1408.1 L405.0,1407.7 L407.0,1407.4 L409.0,1407.0 L411.0,1406.7 L413.0,1406.3 L415.0,1406.0 L417.0,1405.6 L419.0,1405.3 L421.0,1404.9 L423.0,1404.5 L425.0,1404.1 L427.0,1403.8 L429.0,1403.4 L431.0,1403.0 L433.0,1402.6 L435.0,1402.2 L437.0,1401.7 L439.0,1401.3 L441.0,1400.9 L443.0,1400.4 L445.0,1399.9 L447.0,1399.4 L449.0,1398.9 L451.0,1398.3 L453.0,1397.8 L455.0,1397.2 L457.0,1396.6 L459.0,1396.0 L461.0,1395.3 L463.0,1394.7 L465.0,1394.0 L467.0,1393.4 L469.0,1392.7 L471.0,1392.0 L473.0,1391.3 L475.0,1390.6 L477.0,1389.9 L479.0,1389.2 L481.0,1388.5 L483.0,1387.8 L485.0,1387.1 L487.0,1386.4 L489.0,1385.7 L491.0,1384.9 L493.0,1384.2 L495.0,1383.5 L497.0,1382.7 L499.0,1382.0 L501.0,1381.2 L503.0,1380.4 L505.0,1379.6 L507.0,1378.8 L509.0,1377.9 L511.0,1377.1 L513.0,1376.2 L515.0,1375.4 L517.0,1374.5 L519.0,1373.6 L521.0,1372.6 L523.0,1371.7 L525.0,1370.7 L527.0,1369.7 L529.0,1368.7 L531.0,1367.7 L533.0,1366.7 L535.0,1365.6 L537.0,1364.5 L539.0,1363.4 L541.0,1362.3 L543.0,1361.1 L545.0,1359.9 L547.0,1358.7 L549.0,1357.5 L551.0,1356.2 L553.0,1354.9 L555.0,1353.6 L557.0,1352.2 L559.0,1350.9 L561.0,1349.4 L563.0,1348.0 L565.0,1346.4 L567.0,1344.9 L569.0,1343.3 L571.0,1341.6 L573.0,1339.9 L575.0,1338.1 L577.0,1336.3 L579.0,1334.5 L581.0,1332.5 L583.0,1330.6 L585.0,1328.5 L587.0,1326.4 L589.0,1324.2 L591.0,1321.9 L593.0,1319.5 L595.0,1317.0 L597.0,1314.4 L599.0,1311.8 L601.0,1309.1 L603.0,1306.3 L605.0,1303.4 L607.0,1300.5 L609.0,1297.6 L611.0,1294.6 L613.0,1291.5 L615.0,1288.3 L617.0,1285.0 L619.0,1281.5 L621.0,1277.9 L623.0,1274.3 L625.0,1270.5 L627.0,1266.8 L629.0,1262.9 L631.0,1259.0 L633.0,1255.1 L635.0,1251.1 L637.0,1247.0 L639.0,1242.8 L641.0,1238.6 L643.0,1234.2 L645.0,1229.8 L647.0,1225.3 L649.0,1220.7 L651.0,1215.9 L653.0,1211.0 L655.0,1205.9 L657.0,1200.7 L659.0,1195.4 L661.0,1190.2 L663.0,1185.0 L665.0,1179.9 L667.0,1174.9 L669.0,1169.9 L671.0,1165.1 L673.0,1160.3 L675.0,1155.5 L677.0,1150.7 L679.0,1145.8 L681.0,1140.9 L683.0,1136.0 L685.0,1131.0 L687.0,1126.1 L689.0,1121.1 L691.0,1116.2 L693.0,1111.3 L695.0,1106.5 L697.0,1101.8 L699.0,1097.2 L701.0,1092.6 L703.0,1088.2 L705.0,1084.0 L707.0,1079.9 L709.0,1075.8 L711.0,1071.8 L713.0,1067.8 L715.0,1063.9 L717.0,1060.1 L719.0,1056.2 L721.0,1052.5 L723.0,1048.8 L725.0,1045.1 L727.0,1041.5 L729.0,1038.0 L731.0,1034.5 L733.0,1031.1 L735.0,1027.7 L737.0,1024.3 L739.0,1021.0 L741.0,1017.8 L743.0,1014.6 L745.0,1011.4 L747.0,1008.3 L749.0,1005.2 L751.0,1002.2 L753.0,999.2 L755.0,996.2 L757.0,993.3 L759.0,990.4 L761.0,987.5 L763.0,984.7 L765.0,981.9 L767.0,979.2 L769.0,976.5 L771.0,973.8 L773.0,971.2 L775.0,968.6 L777.0,966.1 L779.0,963.6 L781.0,961.2 L783.0,958.8 L785.0,956.4 L787.0,954.1 L789.0,951.9 L791.0,949.6 L793.0,947.4 L795.0,945.3 L797.0,943.1 L799.0,941.0 L801.0,939.0 L803.0,937.0 L805.0,935.0 L807.0,933.0 L809.0,931.1 L811.0,929.2 L813.0,927.3 L815.0,925.4 L817.0,923.6 L819.0,921.8 L821.0,920.1 L823.0,918.4 L825.0,916.7 L827.0,915.0 L829.0,913.3 L831.0,911.7 L833.0,910.1 L835.0,908.5 L837.0,906.9 L839.0,905.3 L841.0,903.7 L843.0,902.2 L845.0,900.7 L847.0,899.1 L849.0,897.6 L851.0,896.2 L853.0,894.7 L855.0,893.2 L857.0,891.8 L859.0,890.3 L861.0,888.9 L863.0,887.5 L865.0,886.1 L867.0,884.7 L869.0,883.3 L871.0,882.0 L873.0,880.6 L875.0,879.3 L877.0,877.9 L879.0,876.6 L881.0,875.3 L883.0,874.0 L885.0,872.7 L887.0,871.4 L889.0,870.1 L891.0,868.8 L893.0,867.5 L895.0,866.3 L897.0,865.0 L899.0,863.8 L901.0,862.5 L903.0,861.3 L905.0,860.1 L907.0,858.9 L909.0,857.7 L911.0,856.5 L913.0,855.4 L915.0,854.2 L917.0,853.0 L919.0,851.9 L921.0,850.7 L923.0,849.6 L925.0,848.5 L927.0,847.4 L929.0,846.2 L931.0,845.1 L933.0,844.0 L935.0,842.9 L937.0,841.8 L939.0,840.8 L941.0,839.7 L943.0,838.6 L945.0,837.5 L947.0,836.4 L949.0,835.4 L951.0,834.3 L953.0,833.2 L955.0,832.2 L957.0,831.1 L959.0,830.1 L961.0,829.0 L963.0,827.9 L965.0,826.9 L967.0,825.8 L969.0,824.8 L971.0,823.7 L973.0,822.6 L975.0,821.6 L977.0,820.5 L979.0,819.4 L981.0,818.4 L983.0,817.3 L985.0,816.2 L987.0,815.1 L989.0,814.0 L991.0,812.9 L993.0,811.9 L995.0,810.8 L997.0,809.7 L999.0,808.7 L1001.0,807.7 L1003.0,806.7 L1005.0,805.7 L1007.0,804.8 L1009.0,803.9 L1011.0,803.0 L1013.0,802.1 L1015.0,801.3 L1017.0,800.5 L1019.0,799.6 L1021.0,798.8 L1023.0,798.0 L1025.0,797.3 L1027.0,796.5 L1029.0,795.7 L1031.0,795.0 L1033.0,794.2 L1035.0,793.5 L1037.0,792.7 L1039.0,792.0 L1041.0,791.3 L1043.0,790.6 L1045.0,789.9 L1047.0,789.2 L1049.0,788.4 L1051.0,787.7 L1053.0,787.0 L1055.0,786.3 L1057.0,785.6 L1059.0,785.0 L1061.0,784.3 L1063.0,783.6 L1065.0,782.8 L1067.0,782.1 L1069.0,781.4 L1071.0,780.7 L1073.0,780.0 L1075.0,779.3 L1077.0,778.6 L1079.0,777.9 L1081.0,777.2 L1083.0,776.5 L1085.0,775.8 L1087.0,775.1 L1089.0,774.4 L1091.0,773.7 L1093.0,773.0 L1095.0,772.3 L1097.0,771.7 L1099.0,771.0 L1101.0,770.3 L1103.0,769.6 L1105.0,768.9 L1107.0,768.3 L1109.0,767.6 L1111.0,766.9 L1113.0,766.3 L1115.0,765.6 L1117.0,765.0 L1119.0,764.3 L1121.0,763.6 L1122.5,763.1 L1123.0,763.0 L1125.0,762.5 L1127.0,762.0 L1129.0,761.4 L1131.0,760.9 L1133.0,760.4 L1135.0,759.9 L1137.0,759.4 L1139.0,758.9 L1141.0,758.4 L1143.0,757.9 L1145.0,757.4 L1147.0,756.9 L1149.0,756.4 L1151.0,755.9 L1153.0,755.4 L1155.0,754.9 L1157.0,754.4 L1159.0,754.0 L1161.0,753.5 L1163.0,753.0 L1165.0,752.5 L1167.0,752.1 L1169.0,751.6 L1171.0,751.1 L1173.0,750.7 L1175.0,750.2 L1177.0,749.8 L1179.0,749.3 L1181.0,748.9 L1183.0,748.4 L1185.0,748.0 L1187.0,747.5 L1189.0,747.1 L1191.0,746.6 L1193.0,746.2 L1195.0,745.8 L1197.0,745.3 L1199.0,744.9 L1201.0,744.5 L1203.0,744.1 L1205.0,743.7 L1207.0,743.2 L1209.0,742.8 L1211.0,742.4 L1213.0,742.0 L1215.0,741.6 L1217.0,741.2 L1219.0,740.8 L1221.0,740.4 L1223.0,740.0 L1225.0,739.6 L1227.0,739.2 L1229.0,738.9 L1231.0,738.5 L1233.0,738.1 L1235.0,737.8 L1237.0,737.4 L1239.0,737.0 L1241.0,736.7 L1243.0,736.3 L1245.0,736.0 L1247.0,735.6 L1249.0,735.3 L1251.0,734.9 L1253.0,734.6 L1255.0,734.2 L1257.0,733.9 L1259.0,733.5 L1261.0,733.2 L1263.0,732.8 L1265.0,732.5 L1267.0,732.1 L1269.0,731.8 L1271.0,731.5 L1273.0,731.1 L1275.0,730.8 L1277.0,730.5 L1279.0,730.1 L1281.0,729.8 L1283.0,729.5 L1285.0,729.1 L1287.0,728.8 L1289.0,728.5 L1291.0,728.2 L1293.0,727.8 L1295.0,727.5 L1297.0,727.2 L1299.0,726.9 L1301.0,726.6 L1303.0,726.3 L1305.0,726.0 L1307.0,725.7 L1309.0,725.4 L1311.0,725.1 L1313.0,724.8 L1315.0,724.5 L1317.0,724.2 L1319.0,723.9 L1321.0,723.6 L1323.0,723.3 L1325.0,723.0 L1327.0,722.8 L1329.0,722.5 L1331.0,722.2 L1333.0,721.9 L1335.0,721.7 L1337.0,721.4 L1339.0,721.1 L1341.0,720.9 L1343.0,720.6 L1345.0,720.4 L1347.0,720.1 L1349.0,719.9 L1351.0,719.6 L1353.0,719.4 L1355.0,719.1 L1357.0,718.9 L1359.0,718.6 L1361.0,718.4 L1363.0,718.1 L1365.0,717.9 L1367.0,717.7 L1369.0,717.4 L1371.0,717.2 L1373.0,716.9 L1375.0,716.7 L1377.0,716.5 L1379.0,716.2 L1381.0,716.0 L1383.0,715.7 L1385.0,715.5 L1387.0,715.3 L1389.0,715.0 L1391.0,714.8 L1393.0,714.6 L1395.0,714.3 L1397.0,714.1 L1399.0,713.9 L1401.0,713.6 L1403.0,713.4 L1405.0,713.2 L1407.0,713.0 L1409.0,712.7 L1411.0,712.5 L1413.0,712.3 L1415.0,712.0 L1417.0,711.8 L1419.0,711.6 L1421.0,711.4 L1423.0,711.2 L1425.0,710.9 L1427.0,710.7 L1429.0,710.5 L1431.0,710.3 L1433.0,710.1 L1435.0,709.8 L1437.0,709.6 L1439.0,709.4 L1441.0,709.2 L1443.0,709.0 L1445.0,708.8 L1447.0,708.6 L1449.0,708.3 L1451.0,708.1 L1453.0,707.9 L1455.0,707.7 L1457.0,707.5 L1459.0,707.3 L1461.0,707.1 L1463.0,706.9 L1465.0,706.7 L1467.0,706.5 L1469.0,706.3 L1471.0,706.1 L1473.0,705.9 L1475.0,705.7 L1477.0,705.5 L1479.0,705.3 L1481.0,705.2 L1483.0,705.0 L1485.0,704.8 L1487.0,704.6 L1489.0,704.4 L1491.0,704.2 L1493.0,704.0 L1495.0,703.9 L1497.0,703.7 L1499.0,703.5 L1501.0,703.3 L1503.0,703.1 L1505.0,703.0 L1507.0,702.8 L1509.0,702.6 L1511.0,702.5 L1513.0,702.3 L1515.0,702.1 L1517.0,701.9 L1519.0,701.8 L1521.0,701.6 L1523.0,701.5 L1525.0,701.3 L1527.0,701.1 L1529.0,701.0 L1531.0,700.8 L1533.0,700.7 L1535.0,700.5 L1537.0,700.4 L1539.0,700.2 L1541.0,700.1 L1543.0,699.9 L1545.0,699.8 L1547.0,699.7 L1549.0,699.5 L1551.0,699.4 L1553.0,699.2 L1555.0,699.1 L1557.0,699.0 L1559.0,698.8 L1561.0,698.7 L1563.0,698.6 L1565.0,698.5 L1567.0,698.3 L1569.0,698.2 L1571.0,698.1 L1573.0,698.0 L1575.0,697.9 L1577.0,697.7 L1579.0,697.6 L1581.0,697.5 L1583.0,697.4 L1585.0,697.3 L1587.0,697.2 L1589.0,697.1 L1591.0,697.0 L1593.0,696.9 L1595.0,696.8 L1597.0,696.6 L1599.0,696.5 L1601.0,696.4 L1603.0,696.3 L1605.0,696.2 L1607.0,696.1 L1609.0,696.0 L1611.0,695.9 L1613.0,695.8 L1615.0,695.7 L1617.0,695.6 L1619.0,695.5 L1621.0,695.4 L1623.0,695.3 L1625.0,695.2 L1627.0,695.1 L1629.0,695.0 L1631.0,694.9 L1633.0,694.8 L1635.0,694.7 L1637.0,694.6 L1639.0,694.5 L1641.0,694.4 L1643.0,694.3 L1645.0,694.2 L1647.0,694.1 L1649.0,694.0 L1651.0,693.9 L1653.0,693.8 L1655.0,693.7 L1657.0,693.6 L1659.0,693.5 L1661.0,693.4 L1663.0,693.3 L1665.0,693.3 L1667.0,693.2 L1669.0,693.1 L1671.0,693.0 L1673.0,692.9 L1675.0,692.8 L1677.0,692.7 L1679.0,692.6 L1681.0,692.6 L1683.0,692.5 L1685.0,692.4 L1687.0,692.3 L1689.0,692.2 L1691.0,692.1 L1693.0,692.1 L1695.0,692.0 L1697.0,691.9 L1699.0,691.8 L1701.0,691.7 L1703.0,691.7 L1705.0,691.6 L1707.0,691.5 L1709.0,691.4 L1711.0,691.3 L1713.0,691.3 L1715.0,691.2 L1717.0,691.1 L1719.0,691.1 L1721.0,691.0 L1723.0,690.9 L1725.0,690.8 L1727.0,690.8 L1729.0,690.7 L1731.0,690.6 L1733.0,690.6 L1735.0,690.5 L1737.0,690.4 L1739.0,690.4 L1741.0,690.3 L1743.0,690.2 L1745.0,690.2 L1747.0,690.1 L1749.0,690.1 L1751.0,690.0 L1753.0,689.9 L1755.0,689.9 L1757.0,689.8 L1759.0,689.8 L1761.0,689.7 L1763.0,689.7 L1765.0,689.6 L1767.0,689.5 L1769.0,689.5 L1771.0,689.4 L1773.0,689.4 L1775.0,689.3 L1777.0,689.3 L1779.0,689.2 L1781.0,689.2 L1783.0,689.2 L1785.0,689.1 L1787.0,689.1 L1789.0,689.0 L1791.0,689.0 L1793.0,688.9 L1795.0,688.9 L1797.0,688.9 L1799.0,688.8 L1801.0,688.8 L1803.0,688.7 L1805.0,688.7 L1807.0,688.7 L1809.0,688.6 L1811.0,688.6 L1813.0,688.6 L1815.0,688.5 L1817.0,688.5 L1819.0,688.5 L1821.0,688.4 L1823.0,688.4 L1825.0,688.4 L1827.0,688.3 L1829.0,688.3 L1831.0,688.2 L1833.0,688.2 L1835.0,688.2 L1837.0,688.1 L1839.0,688.1 L1841.0,688.1 L1843.0,688.0 L1845.0,688.0 L1847.0,688.0 L1849.0,687.9 L1851.0,687.9 L1853.0,687.9 L1855.0,687.8 L1857.0,687.8 L1859.0,687.8 L1861.0,687.7 L1863.0,687.7 L1865.0,687.7 L1867.0,687.6 L1869.0,687.6 L1871.0,687.6 L1873.0,687.6 L1875.0,687.5 L1877.0,687.5 L1879.0,687.5 L1881.0,687.4 L1883.0,687.4 L1885.0,687.4 L1887.0,687.3 L1889.0,687.3 L1891.0,687.3 L1893.0,687.3 L1895.0,687.2 L1897.0,687.2 L1899.0,687.2 L1901.0,687.1 L1903.0,687.1 L1905.0,687.1 L1907.0,687.1 L1909.0,687.0 L1911.0,687.0 L1913.0,687.0 L1915.0,686.9 L1917.0,686.9 L1919.0,686.9 L1921.0,686.9 L1923.0,686.8 L1925.0,686.8 L1927.0,686.8 L1929.0,686.8 L1931.0,686.8 L1933.0,686.7 L1935.0,686.7 L1937.0,686.7 L1939.0,686.7 L1941.0,686.6 L1943.0,686.6 L1945.0,686.6 L1947.0,686.6 L1949.0,686.6 L1951.0,686.5 L1953.0,686.5 L1955.0,686.5 L1957.0,686.5 L1959.0,686.5 L1961.0,686.4 L1963.0,686.4 L1965.0,686.4 L1967.0,686.4 L1969.0,686.4 L1971.0,686.4 L1973.0,686.3 L1975.0,686.3 L1977.0,686.3 L1979.0,686.3 L1981.0,686.3 L1983.0,686.3 L1985.0,686.3 L1987.0,686.2 L1989.0,686.2 L1991.0,686.2 L1993.0,686.2 L1995.0,686.2 L1997.0,686.2 L1999.0,686.2 L2001.0,686.2 L2003.0,686.2 L2005.0,686.1 L2007.0,686.1 L2009.0,686.1 L2011.0,686.1 L2013.0,686.1 L2015.0,686.1 L2017.0,686.1 L2019.0,686.1 L2021.0,686.1 L2023.0,686.1 L2025.0,686.1 L2027.0,686.1 L2029.0,686.1 L2031.0,686.1 L2033.0,686.1 L2034.0,686.1" stroke="#ff00ff" stroke-dasharray="8 7.091" stroke-width="8" stroke-dashoffset="-3.9"/>
<path d="M211.0,1427.0 L213.0,1426.7 L215.0,1426.5 L217.0,1426.2 L219.0,1425.9 L221.0,1425.6 L223.0,1425.4 L225.0,1425.1 L227.0,1424.8 L229.0,1424.5 L231.0,1424.2 L233.0,1423.9 L235.0,1423.6 L237.0,1423.3 L239.0,1423.1 L241.0,1422.7 L243.0,1422.4 L245.0,1422.1 L247.0,1421.8 L249.0,1421.5 L251.0,1421.2 L253.0,1420.9 L255.0,1420.6 L257.0,1420.2 L259.0,1419.9 L261.0,1419.6 L263.0,1419.2 L265.0,1418.9 L267.0,1418.6 L269.0,1418.2 L271.0,1417.9 L273.0,1417.5 L275.0,1417.2 L277.0,1416.8 L279.0,1416.5 L281.0,1416.1 L283.0,1415.7 L285.0,1415.3 L287.0,1415.0 L289.0,1414.6 L291.0,1414.2 L293.0,1413.8 L295.0,1413.4 L297.0,1413.0 L299.0,1412.6 L301.0,1412.2 L303.0,1411.8 L305.0,1411.4 L307.0,1411.0 L309.0,1410.6 L311.0,1410.1 L313.0,1409.7 L315.0,1409.3 L317.0,1408.8 L319.0,1408.4 L321.0,1407.9 L323.0,1407.5 L325.0,1407.0 L327.0,1406.6 L329.0,1406.1 L331.0,1405.6 L333.0,1405.1 L335.0,1404.6 L337.0,1404.2 L339.0,1403.7 L341.0,1403.1 L343.0,1402.6 L345.0,1402.1 L347.0,1401.6 L349.0,1401.1 L351.0,1400.5 L353.0,1400.0 L355.0,1399.4 L357.0,1398.9 L359.0,1398.3 L361.0,1397.8 L363.0,1397.2 L365.0,1396.6 L367.0,1396.0 L369.0,1395.4 L371.0,1394.8 L373.0,1394.2 L375.0,1393.6 L377.0,1392.9 L379.0,1392.3 L381.0,1391.7 L383.0,1391.0 L385.0,1390.3 L387.0,1389.7 L389.0,1389.0 L391.0,1388.3 L393.0,1387.6 L395.0,1386.9 L397.0,1386.2 L399.0,1385.4 L401.0,1384.7 L403.0,1384.0 L405.0,1383.2 L407.0,1382.4 L409.0,1381.6 L411.0,1380.9 L413.0,1380.0 L415.0,1379.2 L417.0,1378.4 L419.0,1377.6 L421.0,1376.7 L423.0,1375.8 L425.0,1375.0 L427.0,1374.1 L429.0,1373.2 L431.0,1372.2 L433.0,1371.3 L435.0,1370.4 L437.0,1369.4 L439.0,1368.4 L441.0,1367.4 L443.0,1366.4 L445.0,1365.4 L447.0,1364.3 L449.0,1363.3 L451.0,1362.2 L453.0,1361.1 L455.0,1360.0 L457.0,1358.8 L459.0,1357.7 L461.0,1356.5 L463.0,1355.3 L465.0,1354.1 L467.0,1352.8 L469.0,1351.6 L471.0,1350.3 L473.0,1349.0 L475.0,1347.6 L477.0,1346.3 L479.0,1344.9 L481.0,1343.5 L483.0,1342.1 L485.0,1340.6 L487.0,1339.1 L489.0,1337.6 L491.0,1336.0 L493.0,1334.5 L495.0,1332.9 L497.0,1331.2 L499.0,1329.5 L501.0,1327.8 L503.0,1326.1 L505.0,1324.3 L507.0,1322.5 L509.0,1320.6 L511.0,1318.7 L513.0,1316.8 L515.0,1314.8 L517.0,1312.8 L519.0,1310.7 L521.0,1308.6 L523.0,1306.5 L525.0,1304.3 L527.0,1302.0 L529.0,1299.7 L531.0,1297.4 L533.0,1294.9 L535.0,1292.5 L537.0,1289.9 L539.0,1287.3 L541.0,1284.7 L543.0,1282.0 L545.0,1279.2 L547.0,1276.4 L549.0,1273.4 L551.0,1270.4 L553.0,1267.4 L555.0,1264.2 L557.0,1261.0 L559.0,1257.7 L561.0,1254.3 L563.0,1250.8 L565.0,1247.2 L567.0,1243.6 L569.0,1239.8 L571.0,1235.9 L573.0,1231.9 L575.0,1227.9 L577.0,1223.7 L579.0,1219.4 L581.0,1214.9 L583.0,1210.4 L585.0,1205.7 L587.0,1200.9 L589.0,1196.0 L591.0,1190.9 L593.0,1185.7 L595.0,1180.3 L597.0,1174.8 L599.0,1169.1 L601.0,1163.3 L603.0,1157.3 L605.0,1151.2 L607.0,1144.8 L609.0,1138.3 L611.0,1131.6 L613.0,1124.8 L615.0,1117.7 L617.0,1110.5 L619.0,1103.1 L621.0,1095.5 L623.0,1087.7 L625.0,1079.7 L627.0,1071.5 L629.0,1063.1 L631.0,1054.5 L633.0,1045.8 L635.0,1036.8 L637.0,1027.7 L639.0,1018.4 L641.0,1008.9 L643.0,999.2 L645.0,989.4 L647.0,979.4 L649.0,969.3 L651.0,959.1 L653.0,948.7 L655.0,938.2 L657.0,927.7 L659.0,917.1 L661.0,906.4 L663.0,895.6 L665.0,884.8 L667.0,874.1 L669.0,863.3 L671.0,852.5 L673.0,841.8 L675.0,831.1 L677.0,820.5 L679.0,809.9 L681.0,799.5 L683.0,789.2 L685.0,779.0 L687.0,768.9 L689.0,758.9 L691.0,749.2 L693.0,739.6 L695.0,730.1 L697.0,720.8 L699.0,711.7 L701.0,702.8 L703.0,694.1 L705.0,685.6 L707.0,677.2 L709.0,669.1 L711.0,661.2 L713.0,653.4 L715.0,645.8 L717.0,638.5 L719.0,631.3 L721.0,624.3 L723.0,617.5 L725.0,610.8 L727.0,604.4 L729.0,598.1 L731.0,592.0 L733.0,586.0 L735.0,580.2 L737.0,574.6 L739.0,569.1 L741.0,563.8 L743.0,558.6 L745.0,553.6 L747.0,548.7 L749.0,543.9 L751.0,539.3 L753.0,534.7 L755.0,530.3 L757.0,526.1 L759.0,521.9 L761.0,517.9 L763.0,513.9 L765.0,510.1 L767.0,506.3 L769.0,502.7 L771.0,499.1 L773.0,495.7 L775.0,492.3 L777.0,489.0 L779.0,485.8 L781.0,482.7 L783.0,479.6 L785.0,476.6 L787.0,473.7 L789.0,470.9 L791.0,468.1 L793.0,465.4 L795.0,462.8 L797.0,460.2 L799.0,457.7 L801.0,455.3 L803.0,452.9 L805.0,450.5 L807.0,448.2 L809.0,446.0 L811.0,443.8 L813.0,441.6 L815.0,439.5 L817.0,437.5 L819.0,435.5 L821.0,433.5 L823.0,431.6 L825.0,429.7 L827.0,427.9 L829.0,426.0 L831.0,424.3 L833.0,422.5 L835.0,420.8 L837.0,419.2 L839.0,417.5 L841.0,415.9 L843.0,414.4 L845.0,412.8 L847.0,411.3 L849.0,409.8 L851.0,408.4 L853.0,407.0 L855.0,405.5 L857.0,404.2 L859.0,402.8 L861.0,401.5 L863.0,400.2 L865.0,398.9 L867.0,397.7 L869.0,396.4 L871.0,395.2 L873.0,394.0 L875.0,392.8 L877.0,391.7 L879.0,390.6 L881.0,389.4 L883.0,388.4 L885.0,387.3 L887.0,386.2 L889.0,385.2 L891.0,384.1 L893.0,383.1 L895.0,382.1 L897.0,381.2 L899.0,380.2 L901.0,379.3 L903.0,378.3 L905.0,377.4 L907.0,376.5 L909.0,375.6 L911.0,374.7 L913.0,373.9 L915.0,373.0 L917.0,372.2 L919.0,371.4 L921.0,370.5 L923.0,369.7 L925.0,369.0 L927.0,368.2 L929.0,367.4 L931.0,366.7 L933.0,365.9 L935.0,365.2 L937.0,364.4 L939.0,363.7 L941.0,363.0 L943.0,362.3 L945.0,361.6 L947.0,361.0 L949.0,360.3 L951.0,359.6 L953.0,359.0 L955.0,358.3 L957.0,357.7 L959.0,357.1 L961.0,356.4 L963.0,355.8 L965.0,355.2 L967.0,354.6 L969.0,354.0 L971.0,353.5 L973.0,352.9 L975.0,352.3 L977.0,351.8 L979.0,351.2 L981.0,350.7 L983.0,350.1 L985.0,349.6 L987.0,349.1 L989.0,348.5 L991.0,348.0 L993.0,347.5 L995.0,347.0 L997.0,346.5 L999.0,346.0 L1001.0,345.5 L1003.0,345.1 L1005.0,344.6 L1007.0,344.1 L1009.0,343.7 L1011.0,343.2 L1013.0,342.7 L1015.0,342.3 L1017.0,341.9 L1019.0,341.4 L1021.0,341.0 L1023.0,340.6 L1025.0,340.1 L1027.0,339.7 L1029.0,339.3 L1031.0,338.9 L1033.0,338.5 L1035.0,338.1 L1037.0,337.7 L1039.0,337.3 L1041.0,336.9 L1043.0,336.5 L1045.0,336.1 L1047.0,335.7 L1049.0,335.4 L1051.0,335.0 L1053.0,334.6 L1055.0,334.3 L1057.0,333.9 L1059.0,333.5 L1061.0,333.2 L1063.0,332.8 L1065.0,332.5 L1067.0,332.1 L1069.0,331.8 L1071.0,331.5 L1073.0,331.1 L1075.0,330.8 L1077.0,330.5 L1079.0,330.2 L1081.0,329.8 L1083.0,329.5 L1085.0,329.2 L1087.0,328.9 L1089.0,328.6 L1091.0,328.3 L1093.0,328.0 L1095.0,327.7 L1097.0,327.4 L1099.0,327.1 L1101.0,326.8 L1103.0,326.5 L1105.0,326.2 L1107.0,325.9 L1109.0,325.6 L1111.0,325.4 L1113.0,325.1 L1115.0,324.8 L1117.0,324.5 L1119.0,324.3 L1121.0,324.0 L1122.5,323.8 L1123.0,323.8 L1125.0,323.8 L1127.0,323.8 L1129.0,323.8 L1131.0,323.8 L1133.0,323.8 L1135.0,323.8 L1137.0,323.8 L1139.0,323.8 L1141.0,323.8 L1143.0,323.8 L1145.0,323.8 L1147.0,323.8 L1149.0,323.8 L1151.0,323.8 L1153.0,323.8 L1155.0,323.8 L1157.0,323.8 L1159.0,323.8 L1161.0,323.8 L1163.0,323.8 L1165.0,323.8 L1167.0,323.8 L1169.0,323.8 L1171.0,323.8 L1173.0,323.8 L1175.0,323.8 L1177.0,323.8 L1179.0,323.8 L1181.0,323.8 L1183.0,323.8 L1185.0,323.8 L1187.0,323.8 L1189.0,323.8 L1191.0,323.8 L1193.0,323.8 L1195.0,323.8 L1197.0,323.8 L1199.0,323.8 L1201.0,323.8 L1203.0,323.8 L1205.0,323.8 L1207.0,323.8 L1209.0,323.8 L1211.0,323.8 L1213.0,323.8 L1215.0,323.8 L1217.0,323.8 L1219.0,323.8 L1221.0,323.8 L1223.0,323.8 L1225.0,323.8 L1227.0,323.8 L1229.0,323.8 L1231.0,323.8 L1233.0,323.8 L1235.0,323.8 L1237.0,323.8 L1239.0,323.8 L1241.0,323.8 L1243.0,323.8 L1245.0,323.8 L1247.0,323.8 L1249.0,323.8 L1251.0,323.8 L1253.0,323.8 L1255.0,323.8 L1257.0,323.8 L1259.0,323.8 L1261.0,323.8 L1263.0,323.8 L1265.0,323.8 L1267.0,323.8 L1269.0,323.8 L1271.0,323.8 L1273.0,323.8 L1275.0,323.8 L1277.0,323.8 L1279.0,323.8 L1281.0,323.8 L1283.0,323.8 L1285.0,323.8 L1287.0,323.8 L1289.0,323.8 L1291.0,323.8 L1293.0,323.8 L1295.0,323.8 L1297.0,323.8 L1299.0,323.8 L1301.0,323.8 L1303.0,323.8 L1305.0,323.8 L1307.0,323.8 L1309.0,323.8 L1311.0,323.8 L1313.0,323.8 L1315.0,323.8 L1317.0,323.8 L1319.0,323.8 L1321.0,323.8 L1323.0,323.8 L1325.0,323.8 L1327.0,323.8 L1329.0,323.8 L1331.0,323.8 L1333.0,323.8 L1335.0,323.8 L1337.0,323.8 L1339.0,323.8 L1341.0,323.8 L1343.0,323.8 L1345.0,323.8 L1347.0,323.8 L1349.0,323.8 L1351.0,323.8 L1353.0,323.8 L1355.0,323.8 L1357.0,323.8 L1359.0,323.8 L1361.0,323.8 L1363.0,323.8 L1365.0,323.8 L1367.0,323.8 L1369.0,323.8 L1371.0,323.8 L1373.0,323.8 L1375.0,323.8 L1377.0,323.8 L1379.0,323.8 L1381.0,323.8 L1383.0,323.8 L1385.0,323.8 L1387.0,323.8 L1389.0,323.8 L1391.0,323.8 L1393.0,323.8 L1395.0,323.8 L1397.0,323.8 L1399.0,323.8 L1401.0,323.8 L1403.0,323.8 L1405.0,323.8 L1407.0,323.8 L1409.0,323.8 L1411.0,323.8 L1413.0,323.8 L1415.0,323.8 L1417.0,323.8 L1419.0,323.8 L1421.0,323.8 L1423.0,323.8 L1425.0,323.8 L1427.0,323.8 L1429.0,323.8 L1431.0,323.8 L1433.0,323.8 L1435.0,323.8 L1437.0,323.8 L1439.0,323.8 L1441.0,323.8 L1443.0,323.8 L1445.0,323.8 L1447.0,323.8 L1449.0,323.8 L1451.0,323.8 L1453.0,323.8 L1455.0,323.8 L1457.0,323.8 L1459.0,323.8 L1461.0,323.8 L1463.0,323.8 L1465.0,323.8 L1467.0,323.8 L1469.0,323.8 L1471.0,323.8 L1473.0,323.8 L1475.0,323.8 L1477.0,323.8 L1479.0,323.8 L1481.0,323.8 L1483.0,323.8 L1485.0,323.8 L1487.0,323.8 L1489.0,323.8 L1491.0,323.8 L1493.0,323.8 L1495.0,323.8 L1497.0,323.8 L1499.0,323.8 L1501.0,323.8 L1503.0,323.8 L1505.0,323.8 L1507.0,323.8 L1509.0,323.8 L1511.0,323.8 L1513.0,323.8 L1515.0,323.8 L1517.0,323.8 L1519.0,323.8 L1521.0,323.8 L1523.0,323.8 L1525.0,323.8 L1527.0,323.8 L1529.0,323.8 L1531.0,323.8 L1533.0,323.8 L1535.0,323.8 L1537.0,323.8 L1539.0,323.8 L1541.0,323.8 L1543.0,323.8 L1545.0,323.8 L1547.0,323.8 L1549.0,323.8 L1551.0,323.8 L1553.0,323.8 L1555.0,323.8 L1557.0,323.8 L1559.0,323.8 L1561.0,323.8 L1563.0,323.8 L1565.0,323.8 L1567.0,323.8 L1569.0,323.8 L1571.0,323.8 L1573.0,323.8 L1575.0,323.8 L1577.0,323.8 L1579.0,323.8 L1581.0,323.8 L1583.0,323.8 L1585.0,323.8 L1587.0,323.8 L1589.0,323.8 L1591.0,323.8 L1593.0,323.8 L1595.0,323.8 L1597.0,323.8 L1599.0,323.8 L1601.0,323.8 L1603.0,323.8 L1605.0,323.8 L1607.0,323.8 L1609.0,323.8 L1611.0,323.8 L1613.0,323.8 L1615.0,323.8 L1617.0,323.8 L1619.0,323.8 L1621.0,323.8 L1623.0,323.8 L1625.0,323.8 L1627.0,323.8 L1629.0,323.8 L1631.0,323.8 L1633.0,323.8 L1635.0,323.8 L1637.0,323.8 L1639.0,323.8 L1641.0,323.8 L1643.0,323.8 L1645.0,323.8 L1647.0,323.8 L1649.0,323.8 L1651.0,323.8 L1653.0,323.8 L1655.0,323.8 L1657.0,323.8 L1659.0,323.8 L1661.0,323.8 L1663.0,323.8 L1665.0,323.8 L1667.0,323.8 L1669.0,323.8 L1671.0,323.8 L1673.0,323.8 L1675.0,323.8 L1677.0,323.8 L1679.0,323.8 L1681.0,323.8 L1683.0,323.8 L1685.0,323.8 L1687.0,323.8 L1689.0,323.8 L1691.0,323.8 L1693.0,323.8 L1695.0,323.8 L1697.0,323.8 L1699.0,323.8 L1701.0,323.8 L1703.0,323.8 L1705.0,323.8 L1707.0,323.8 L1709.0,323.8 L1711.0,323.8 L1713.0,323.8 L1715.0,323.8 L1717.0,323.8 L1719.0,323.8 L1721.0,323.8 L1723.0,323.8 L1725.0,323.8 L1727.0,323.8 L1729.0,323.8 L1731.0,323.8 L1733.0,323.8 L1735.0,323.8 L1737.0,323.8 L1739.0,323.8 L1741.0,323.8 L1743.0,323.8 L1745.0,323.8 L1747.0,323.8 L1749.0,323.8 L1751.0,323.8 L1753.0,323.8 L1755.0,323.8 L1757.0,323.8 L1759.0,323.8 L1761.0,323.8 L1763.0,323.8 L1765.0,323.8 L1767.0,323.8 L1769.0,323.8 L1771.0,323.8 L1773.0,323.8 L1775.0,323.8 L1777.0,323.8 L1779.0,323.8 L1781.0,323.8 L1783.0,323.8 L1785.0,323.8 L1787.0,323.8 L1789.0,323.8 L1791.0,323.8 L1793.0,323.8 L1795.0,323.8 L1797.0,323.8 L1799.0,323.8 L1801.0,323.8 L1803.0,323.8 L1805.0,323.8 L1807.0,323.8 L1809.0,323.8 L1811.0,323.8 L1813.0,323.8 L1815.0,323.8 L1817.0,323.8 L1819.0,323.8 L1821.0,323.8 L1823.0,323.8 L1825.0,323.8 L1827.0,323.8 L1829.0,323.8 L1831.0,323.8 L1833.0,323.8 L1835.0,323.8 L1837.0,323.8 L1839.0,323.8 L1841.0,323.8 L1843.0,323.8 L1845.0,323.8 L1847.0,323.8 L1849.0,323.8 L1851.0,323.8 L1853.0,323.8 L1855.0,323.8 L1857.0,323.8 L1859.0,323.8 L1861.0,323.8 L1863.0,323.8 L1865.0,323.8 L1867.0,323.8 L1869.0,323.8 L1871.0,323.8 L1873.0,323.8 L1875.0,323.8 L1877.0,323.8 L1879.0,323.8 L1881.0,323.8 L1883.0,323.8 L1885.0,323.8 L1887.0,323.8 L1889.0,323.8 L1891.0,323.8 L1893.0,323.8 L1895.0,323.8 L1897.0,323.8 L1899.0,323.8 L1901.0,323.8 L1903.0,323.8 L1905.0,323.8 L1907.0,323.8 L1909.0,323.8 L1911.0,323.8 L1913.0,323.8 L1915.0,323.8 L1917.0,323.8 L1919.0,323.8 L1921.0,323.8 L1923.0,323.8 L1925.0,323.8 L1927.0,323.8 L1929.0,323.8 L1931.0,323.8 L1933.0,323.8 L1935.0,323.8 L1937.0,323.8 L1939.0,323.8 L1941.0,323.8 L1943.0,323.8 L1945.0,323.8 L1947.0,323.8 L1949.0,323.8 L1951.0,323.8 L1953.0,323.8 L1955.0,323.8 L1957.0,323.8 L1959.0,323.8 L1961.0,323.8 L1963.0,323.8 L1965.0,323.8 L1967.0,323.8 L1969.0,323.8 L1971.0,323.8 L1973.0,323.8 L1975.0,323.8 L1977.0,323.8 L1979.0,323.8 L1981.0,323.8 L1983.0,323.8 L1985.0,323.8 L1987.0,323.8 L1989.0,323.8 L1991.0,323.8 L1993.0,323.8 L1995.0,323.8 L1997.0,323.8 L1999.0,323.8 L2001.0,323.8 L2003.0,323.8 L2005.0,323.8 L2007.0,323.8 L2009.0,323.8 L2011.0,323.8 L2013.0,323.8 L2015.0,323.8 L2017.0,323.8 L2019.0,323.8 L2021.0,323.8 L2023.0,323.8 L2025.0,323.8 L2027.0,323.8 L2029.0,323.8 L2031.0,323.8 L2033.0,323.8 L2034.0,323.8" stroke="#000000"/>
</g>
<text class="tk" transform="translate(209.4 1518.3) scale(1 1.04)" text-anchor="middle">2</text>
<text class="tk" transform="translate(437.3 1518.3) scale(1 1.04)" text-anchor="middle">2.5</text>
<text class="tk" transform="translate(665.1 1518.3) scale(1 1.04)" text-anchor="middle">3</text>
<text class="tk" transform="translate(893.0 1518.3) scale(1 1.04)" text-anchor="middle">3.5</text>
<text class="tk" transform="translate(1120.9 1518.3) scale(1 1.04)" text-anchor="middle">4</text>
<text class="tk" transform="translate(1348.8 1518.3) scale(1 1.04)" text-anchor="middle">4.5</text>
<text class="tk" transform="translate(1576.7 1518.3) scale(1 1.04)" text-anchor="middle">5</text>
<text class="tk" transform="translate(1804.5 1518.3) scale(1 1.04)" text-anchor="middle">5.5</text>
<text class="tk" transform="translate(2032.4 1518.3) scale(1 1.04)" text-anchor="middle">6</text>
<text class="tk" transform="translate(188.2 1454.8) scale(1 1.04)" text-anchor="end">0</text>
<text class="tk" transform="translate(188.2 1179.0) scale(1 1.04)" text-anchor="end">0.5</text>
<text class="tk" transform="translate(188.2 903.2) scale(1 1.04)" text-anchor="end">1</text>
<text class="tk" transform="translate(188.2 627.4) scale(1 1.04)" text-anchor="end">1.5</text>
<text class="tk" transform="translate(188.2 351.6) scale(1 1.04)" text-anchor="end">2</text>
<text class="tk" transform="translate(188.2 75.8) scale(1 1.04)" text-anchor="end">2.5</text>
<text class="al" font-size="68" x="1122.5" y="1607" text-anchor="middle">time [s]</text>
<text class="al" font-size="68.5" transform="translate(67.7 738) rotate(-90)" text-anchor="middle">bending angle [°]</text>
<rect x="1239" y="866" width="788" height="556" fill="#fff" stroke="#0e0e0e" stroke-width="2" shape-rendering="crispEdges"/>
<path d="M1250,906.5 H1364" stroke="#ff0000" stroke-width="9" fill="none" shape-rendering="crispEdges"/>
<text class="lg" transform="translate(1373.3 918.6) scale(1 1.03)" xml:space="preserve">CA,  500 Nm, K<tspan class="ss" dy="15.92" dx="1.5">eqv</tspan><tspan dy="-15.92" dx="3.5" letter-spacing="-0.2"> = 6e12 N/m</tspan><tspan class="ss" dy="-15.92" dx="2.8">1.5</tspan><tspan dy="15.92">, n = 1.5</tspan></text>
<path d="M1250,978.1 H1364" stroke="#00ff00" stroke-width="9" fill="none" shape-rendering="crispEdges"/>
<text class="lg" transform="translate(1373.3 988.8) scale(1 1.03)" xml:space="preserve">CA, 1000 Nm, K<tspan class="ss" dy="15.92" dx="1.5">eqv</tspan><tspan dy="-15.92" dx="3.5" letter-spacing="-0.2"> = 6e12 N/m</tspan><tspan class="ss" dy="-15.92" dx="2.8">1.5</tspan><tspan dy="15.92">, n = 1.5</tspan></text>
<path d="M1250,1049.7 H1364" stroke="#0000ff" stroke-width="9" fill="none" shape-rendering="crispEdges"/>
<text class="lg" transform="translate(1373.3 1060.4) scale(1 1.03)" xml:space="preserve">CA, 2000 Nm, K<tspan class="ss" dy="15.92" dx="1.5">eqv</tspan><tspan dy="-15.92" dx="3.5" letter-spacing="-0.2"> = 6e12 N/m</tspan><tspan class="ss" dy="-15.92" dx="2.8">1.5</tspan><tspan dy="15.92">, n = 1.5</tspan></text>
<path d="M1250,1121.3 H1364" stroke="#ffff00" stroke-width="9" fill="none" shape-rendering="crispEdges"/>
<text class="lg" transform="translate(1373.3 1131.9) scale(1 1.03)" xml:space="preserve">CA, 3000 Nm, K<tspan class="ss" dy="15.92" dx="1.5">eqv</tspan><tspan dy="-15.92" dx="3.5" letter-spacing="-0.2"> = 6e12 N/m</tspan><tspan class="ss" dy="-15.92" dx="2.8">1.5</tspan><tspan dy="15.92">, n = 1.5</tspan></text>
<path d="M1250,1192.9 H1364" stroke="#ff00ff" stroke-width="9" fill="none" shape-rendering="crispEdges"/>
<text class="lg" transform="translate(1373.3 1203.5) scale(1 1.03)" xml:space="preserve">CA, 3700 Nm, K<tspan class="ss" dy="15.92" dx="1.5">eqv</tspan><tspan dy="-15.92" dx="3.5" letter-spacing="-0.2"> = 6e12 N/m</tspan><tspan class="ss" dy="-15.92" dx="2.8">1.5</tspan><tspan dy="15.92">, n = 1.5</tspan></text>
<path d="M1250,1264.5 H1364" stroke="#0000ff" stroke-width="9" fill="none" stroke-dasharray="31 29" shape-rendering="crispEdges"/>
<text class="lg" transform="translate(1373.3 1275.4) scale(1 1.03)" xml:space="preserve">CA, 2000 Nm, K<tspan class="ss" dy="15.92" dx="1.5">eqv</tspan><tspan dy="-15.92" dx="3.5" letter-spacing="-0.2"> = 3e11 N/m</tspan><tspan class="ss" dy="-15.92" dx="2.8">1.5</tspan><tspan dy="15.92">, n = 1.5</tspan></text>
<path d="M1250,1336.0 H1364" stroke="#ff00ff" stroke-width="8" fill="none" stroke-dasharray="8 7" shape-rendering="crispEdges"/>
<text class="lg" transform="translate(1373.3 1347.8) scale(1 1.03)" xml:space="preserve">CA, 3700 Nm, K<tspan class="ss" dy="15.92" dx="1.5">eqv</tspan><tspan dy="-15.92" dx="3.5" letter-spacing="-0.2"> = 3e11 N/m</tspan><tspan class="ss" dy="-15.92" dx="2.8">1.5</tspan><tspan dy="15.92">, n = 1.5</tspan></text>
<path d="M1250,1394 H1364" stroke="#000" stroke-width="8.4" fill="none" shape-rendering="crispEdges"/>
<text class="lg" transform="translate(1373.3 1408) scale(1 1.03)">IR</text>
</svg></body></html>
